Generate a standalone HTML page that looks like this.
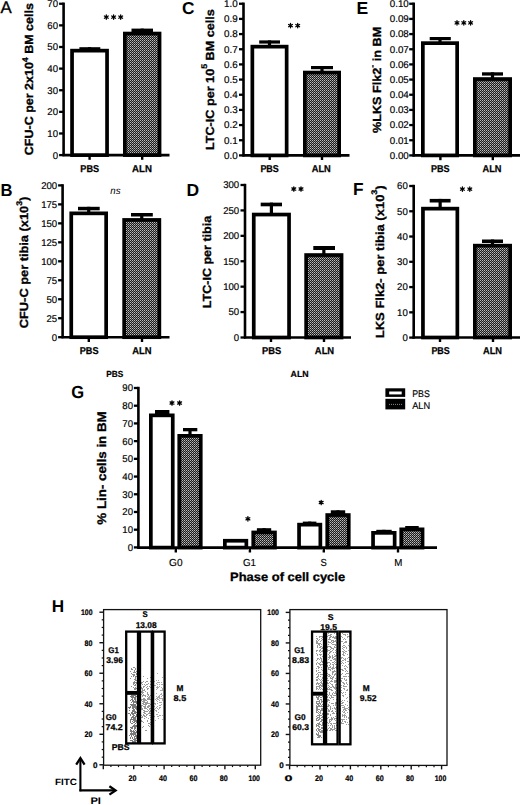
<!DOCTYPE html>
<html><head><meta charset="utf-8"><style>
html,body{margin:0;padding:0;background:#fff;width:520px;height:805px;overflow:hidden;font-family:"Liberation Sans",sans-serif;}
</style></head><body>
<svg width="520" height="805" viewBox="0 0 520 805" style="position:absolute;left:0;top:0">
<defs><pattern id="dots" x="0" y="0" width="2" height="2" patternUnits="userSpaceOnUse"><rect width="2" height="2" fill="#1c1c1c"/><rect x="0" y="0" width="1" height="1" fill="#bcbcbc"/><rect x="1" y="1" width="1" height="1" fill="#848484"/></pattern></defs>
<g font-family="&quot;Liberation Sans&quot;, sans-serif" text-rendering="geometricPrecision">
<line x1="63.60" y1="2.55" x2="63.60" y2="156.10" stroke="#000" stroke-width="2.6"/>
<line x1="59.10" y1="155.10" x2="63.60" y2="155.10" stroke="#000" stroke-width="2.3"/>
<text x="58.00" y="158.50" font-size="9.8" text-anchor="end" textLength="5.35" lengthAdjust="spacingAndGlyphs" stroke="#000" stroke-width="0.18">0</text>
<line x1="59.10" y1="133.48" x2="63.60" y2="133.48" stroke="#000" stroke-width="2.3"/>
<text x="58.00" y="136.88" font-size="9.8" text-anchor="end" textLength="10.70" lengthAdjust="spacingAndGlyphs" stroke="#000" stroke-width="0.18">10</text>
<line x1="59.10" y1="111.86" x2="63.60" y2="111.86" stroke="#000" stroke-width="2.3"/>
<text x="58.00" y="115.26" font-size="9.8" text-anchor="end" textLength="10.70" lengthAdjust="spacingAndGlyphs" stroke="#000" stroke-width="0.18">20</text>
<line x1="59.10" y1="90.24" x2="63.60" y2="90.24" stroke="#000" stroke-width="2.3"/>
<text x="58.00" y="93.64" font-size="9.8" text-anchor="end" textLength="10.70" lengthAdjust="spacingAndGlyphs" stroke="#000" stroke-width="0.18">30</text>
<line x1="59.10" y1="68.61" x2="63.60" y2="68.61" stroke="#000" stroke-width="2.3"/>
<text x="58.00" y="72.01" font-size="9.8" text-anchor="end" textLength="10.70" lengthAdjust="spacingAndGlyphs" stroke="#000" stroke-width="0.18">40</text>
<line x1="59.10" y1="46.99" x2="63.60" y2="46.99" stroke="#000" stroke-width="2.3"/>
<text x="58.00" y="50.39" font-size="9.8" text-anchor="end" textLength="10.70" lengthAdjust="spacingAndGlyphs" stroke="#000" stroke-width="0.18">50</text>
<line x1="59.10" y1="25.37" x2="63.60" y2="25.37" stroke="#000" stroke-width="2.3"/>
<text x="58.00" y="28.77" font-size="9.8" text-anchor="end" textLength="10.70" lengthAdjust="spacingAndGlyphs" stroke="#000" stroke-width="0.18">60</text>
<line x1="59.10" y1="3.75" x2="63.60" y2="3.75" stroke="#000" stroke-width="2.3"/>
<text x="58.00" y="7.15" font-size="9.8" text-anchor="end" textLength="10.70" lengthAdjust="spacingAndGlyphs" stroke="#000" stroke-width="0.18">70</text>
<line x1="62.50" y1="155.10" x2="169.50" y2="155.10" stroke="#000" stroke-width="2.6"/>
<line x1="89.60" y1="155.10" x2="89.60" y2="159.80" stroke="#000" stroke-width="2.4"/>
<line x1="142.20" y1="155.10" x2="142.20" y2="159.80" stroke="#000" stroke-width="2.4"/>
<text x="89.70" y="171.50" font-size="9.9" text-anchor="middle" font-weight="bold" textLength="18.80" lengthAdjust="spacingAndGlyphs" stroke="#000" stroke-width="0.25">PBS</text>
<text x="142.00" y="171.50" font-size="9.9" text-anchor="middle" font-weight="bold" textLength="19.80" lengthAdjust="spacingAndGlyphs" stroke="#000" stroke-width="0.25">ALN</text>
<rect x="72.05" y="50.65" width="35.00" height="104.45" fill="#fff" stroke="#000" stroke-width="3.7"/>
<rect x="79.40" y="47.20" width="20.90" height="2.80" fill="#000"/>
<rect x="87.95" y="47.20" width="3.20" height="2.60" fill="#000"/>
<rect x="124.00" y="32.70" width="36.40" height="122.40" fill="url(#dots)"/>
<rect x="124.85" y="33.55" width="34.70" height="121.55" fill="none" stroke="#000" stroke-width="3.7"/>
<rect x="131.50" y="28.60" width="21.50" height="4.40" fill="#000"/>
<rect x="140.60" y="28.60" width="3.20" height="4.10" fill="#000"/>
<path d="M106.30 14.90L106.30 19.30M104.39 16.00L108.21 18.20M108.21 16.00L104.39 18.20" stroke="#000" stroke-width="1.3" stroke-linecap="round" fill="none"/>
<circle cx="106.30" cy="17.10" r="1.15" fill="#000"/>
<path d="M113.60 14.90L113.60 19.30M111.69 16.00L115.51 18.20M115.51 16.00L111.69 18.20" stroke="#000" stroke-width="1.3" stroke-linecap="round" fill="none"/>
<circle cx="113.60" cy="17.10" r="1.15" fill="#000"/>
<path d="M120.70 14.90L120.70 19.30M118.79 16.00L122.61 18.20M122.61 16.00L118.79 18.20" stroke="#000" stroke-width="1.3" stroke-linecap="round" fill="none"/>
<circle cx="120.70" cy="17.10" r="1.15" fill="#000"/>
<text x="0.50" y="13.10" font-size="16.8" text-anchor="start" stroke="#000" stroke-width="0.35">A</text>
<text transform="translate(33.30,79.15) rotate(-90)" x="0" y="0" font-size="11.8" font-weight="bold" text-anchor="middle" textLength="152.00" lengthAdjust="spacingAndGlyphs" stroke="#000" stroke-width="0.3">CFU-C per 2x10<tspan font-size="8.2" dy="-5.7">4</tspan><tspan dy="5.7"> BM cells</tspan></text>
<line x1="243.50" y1="2.55" x2="243.50" y2="156.40" stroke="#000" stroke-width="2.6"/>
<line x1="239.00" y1="155.40" x2="243.50" y2="155.40" stroke="#000" stroke-width="2.3"/>
<text x="237.80" y="158.80" font-size="9.8" text-anchor="end" textLength="13.70" lengthAdjust="spacingAndGlyphs" stroke="#000" stroke-width="0.18">0.0</text>
<line x1="239.00" y1="140.24" x2="243.50" y2="140.24" stroke="#000" stroke-width="2.3"/>
<text x="237.80" y="143.64" font-size="9.8" text-anchor="end" textLength="13.70" lengthAdjust="spacingAndGlyphs" stroke="#000" stroke-width="0.18">0.1</text>
<line x1="239.00" y1="125.07" x2="243.50" y2="125.07" stroke="#000" stroke-width="2.3"/>
<text x="237.80" y="128.47" font-size="9.8" text-anchor="end" textLength="13.70" lengthAdjust="spacingAndGlyphs" stroke="#000" stroke-width="0.18">0.2</text>
<line x1="239.00" y1="109.91" x2="243.50" y2="109.91" stroke="#000" stroke-width="2.3"/>
<text x="237.80" y="113.31" font-size="9.8" text-anchor="end" textLength="13.70" lengthAdjust="spacingAndGlyphs" stroke="#000" stroke-width="0.18">0.3</text>
<line x1="239.00" y1="94.74" x2="243.50" y2="94.74" stroke="#000" stroke-width="2.3"/>
<text x="237.80" y="98.14" font-size="9.8" text-anchor="end" textLength="13.70" lengthAdjust="spacingAndGlyphs" stroke="#000" stroke-width="0.18">0.4</text>
<line x1="239.00" y1="79.58" x2="243.50" y2="79.58" stroke="#000" stroke-width="2.3"/>
<text x="237.80" y="82.98" font-size="9.8" text-anchor="end" textLength="13.70" lengthAdjust="spacingAndGlyphs" stroke="#000" stroke-width="0.18">0.5</text>
<line x1="239.00" y1="64.41" x2="243.50" y2="64.41" stroke="#000" stroke-width="2.3"/>
<text x="237.80" y="67.81" font-size="9.8" text-anchor="end" textLength="13.70" lengthAdjust="spacingAndGlyphs" stroke="#000" stroke-width="0.18">0.6</text>
<line x1="239.00" y1="49.25" x2="243.50" y2="49.25" stroke="#000" stroke-width="2.3"/>
<text x="237.80" y="52.65" font-size="9.8" text-anchor="end" textLength="13.70" lengthAdjust="spacingAndGlyphs" stroke="#000" stroke-width="0.18">0.7</text>
<line x1="239.00" y1="34.08" x2="243.50" y2="34.08" stroke="#000" stroke-width="2.3"/>
<text x="237.80" y="37.48" font-size="9.8" text-anchor="end" textLength="13.70" lengthAdjust="spacingAndGlyphs" stroke="#000" stroke-width="0.18">0.8</text>
<line x1="239.00" y1="18.91" x2="243.50" y2="18.91" stroke="#000" stroke-width="2.3"/>
<text x="237.80" y="22.31" font-size="9.8" text-anchor="end" textLength="13.70" lengthAdjust="spacingAndGlyphs" stroke="#000" stroke-width="0.18">0.9</text>
<line x1="239.00" y1="3.75" x2="243.50" y2="3.75" stroke="#000" stroke-width="2.3"/>
<text x="237.80" y="7.15" font-size="9.8" text-anchor="end" textLength="13.70" lengthAdjust="spacingAndGlyphs" stroke="#000" stroke-width="0.18">1.0</text>
<line x1="242.50" y1="155.40" x2="349.50" y2="155.40" stroke="#000" stroke-width="2.6"/>
<line x1="269.70" y1="155.40" x2="269.70" y2="160.00" stroke="#000" stroke-width="2.4"/>
<line x1="322.00" y1="155.40" x2="322.00" y2="160.00" stroke="#000" stroke-width="2.4"/>
<text x="269.60" y="171.50" font-size="9.9" text-anchor="middle" font-weight="bold" textLength="18.40" lengthAdjust="spacingAndGlyphs" stroke="#000" stroke-width="0.25">PBS</text>
<text x="321.30" y="171.50" font-size="9.9" text-anchor="middle" font-weight="bold" textLength="19.00" lengthAdjust="spacingAndGlyphs" stroke="#000" stroke-width="0.25">ALN</text>
<rect x="252.35" y="46.65" width="34.30" height="108.75" fill="#fff" stroke="#000" stroke-width="3.7"/>
<rect x="259.20" y="40.40" width="20.80" height="3.20" fill="#000"/>
<rect x="267.90" y="40.40" width="3.20" height="5.40" fill="#000"/>
<rect x="304.00" y="71.70" width="36.00" height="83.70" fill="url(#dots)"/>
<rect x="304.85" y="72.55" width="34.30" height="82.85" fill="none" stroke="#000" stroke-width="3.7"/>
<rect x="311.00" y="66.00" width="22.00" height="3.20" fill="#000"/>
<rect x="320.40" y="66.00" width="3.20" height="5.70" fill="#000"/>
<path d="M290.50 23.40L290.50 27.80M288.59 24.50L292.41 26.70M292.41 24.50L288.59 26.70" stroke="#000" stroke-width="1.3" stroke-linecap="round" fill="none"/>
<circle cx="290.50" cy="25.60" r="1.15" fill="#000"/>
<path d="M297.70 23.40L297.70 27.80M295.79 24.50L299.61 26.70M299.61 24.50L295.79 26.70" stroke="#000" stroke-width="1.3" stroke-linecap="round" fill="none"/>
<circle cx="297.70" cy="25.60" r="1.15" fill="#000"/>
<text x="181.90" y="13.60" font-size="17.3" text-anchor="start" font-weight="bold" >C</text>
<text transform="translate(213.70,79.60) rotate(-90)" x="0" y="0" font-size="11.8" font-weight="bold" text-anchor="middle" textLength="140.80" lengthAdjust="spacingAndGlyphs" stroke="#000" stroke-width="0.3">LTC-IC per 10<tspan font-size="8.2" dy="-6.3">5</tspan><tspan dy="6.3"> BM cells</tspan></text>
<line x1="413.70" y1="2.55" x2="413.70" y2="156.40" stroke="#000" stroke-width="2.6"/>
<line x1="409.20" y1="155.40" x2="413.70" y2="155.40" stroke="#000" stroke-width="2.3"/>
<text x="408.80" y="158.80" font-size="9.8" text-anchor="end" textLength="19.05" lengthAdjust="spacingAndGlyphs" stroke="#000" stroke-width="0.18">0.00</text>
<line x1="409.20" y1="140.24" x2="413.70" y2="140.24" stroke="#000" stroke-width="2.3"/>
<text x="408.80" y="143.64" font-size="9.8" text-anchor="end" textLength="19.05" lengthAdjust="spacingAndGlyphs" stroke="#000" stroke-width="0.18">0.01</text>
<line x1="409.20" y1="125.07" x2="413.70" y2="125.07" stroke="#000" stroke-width="2.3"/>
<text x="408.80" y="128.47" font-size="9.8" text-anchor="end" textLength="19.05" lengthAdjust="spacingAndGlyphs" stroke="#000" stroke-width="0.18">0.02</text>
<line x1="409.20" y1="109.91" x2="413.70" y2="109.91" stroke="#000" stroke-width="2.3"/>
<text x="408.80" y="113.31" font-size="9.8" text-anchor="end" textLength="19.05" lengthAdjust="spacingAndGlyphs" stroke="#000" stroke-width="0.18">0.03</text>
<line x1="409.20" y1="94.74" x2="413.70" y2="94.74" stroke="#000" stroke-width="2.3"/>
<text x="408.80" y="98.14" font-size="9.8" text-anchor="end" textLength="19.05" lengthAdjust="spacingAndGlyphs" stroke="#000" stroke-width="0.18">0.04</text>
<line x1="409.20" y1="79.58" x2="413.70" y2="79.58" stroke="#000" stroke-width="2.3"/>
<text x="408.80" y="82.98" font-size="9.8" text-anchor="end" textLength="19.05" lengthAdjust="spacingAndGlyphs" stroke="#000" stroke-width="0.18">0.05</text>
<line x1="409.20" y1="64.41" x2="413.70" y2="64.41" stroke="#000" stroke-width="2.3"/>
<text x="408.80" y="67.81" font-size="9.8" text-anchor="end" textLength="19.05" lengthAdjust="spacingAndGlyphs" stroke="#000" stroke-width="0.18">0.06</text>
<line x1="409.20" y1="49.25" x2="413.70" y2="49.25" stroke="#000" stroke-width="2.3"/>
<text x="408.80" y="52.65" font-size="9.8" text-anchor="end" textLength="19.05" lengthAdjust="spacingAndGlyphs" stroke="#000" stroke-width="0.18">0.07</text>
<line x1="409.20" y1="34.08" x2="413.70" y2="34.08" stroke="#000" stroke-width="2.3"/>
<text x="408.80" y="37.48" font-size="9.8" text-anchor="end" textLength="19.05" lengthAdjust="spacingAndGlyphs" stroke="#000" stroke-width="0.18">0.08</text>
<line x1="409.20" y1="18.91" x2="413.70" y2="18.91" stroke="#000" stroke-width="2.3"/>
<text x="408.80" y="22.31" font-size="9.8" text-anchor="end" textLength="19.05" lengthAdjust="spacingAndGlyphs" stroke="#000" stroke-width="0.18">0.09</text>
<line x1="409.20" y1="3.75" x2="413.70" y2="3.75" stroke="#000" stroke-width="2.3"/>
<text x="408.80" y="7.15" font-size="9.8" text-anchor="end" textLength="19.05" lengthAdjust="spacingAndGlyphs" stroke="#000" stroke-width="0.18">0.10</text>
<line x1="412.50" y1="155.40" x2="520.00" y2="155.40" stroke="#000" stroke-width="2.6"/>
<line x1="440.40" y1="155.40" x2="440.40" y2="160.20" stroke="#000" stroke-width="2.4"/>
<line x1="492.80" y1="155.40" x2="492.80" y2="160.20" stroke="#000" stroke-width="2.4"/>
<text x="440.30" y="171.50" font-size="9.9" text-anchor="middle" font-weight="bold" textLength="18.60" lengthAdjust="spacingAndGlyphs" stroke="#000" stroke-width="0.25">PBS</text>
<text x="492.00" y="171.50" font-size="9.9" text-anchor="middle" font-weight="bold" textLength="19.00" lengthAdjust="spacingAndGlyphs" stroke="#000" stroke-width="0.25">ALN</text>
<rect x="422.85" y="43.15" width="34.30" height="112.25" fill="#fff" stroke="#000" stroke-width="3.7"/>
<rect x="429.70" y="37.00" width="21.10" height="3.20" fill="#000"/>
<rect x="438.40" y="37.00" width="3.20" height="5.30" fill="#000"/>
<rect x="474.00" y="78.20" width="37.00" height="77.20" fill="url(#dots)"/>
<rect x="474.85" y="79.05" width="35.30" height="76.35" fill="none" stroke="#000" stroke-width="3.7"/>
<rect x="482.00" y="72.30" width="21.00" height="3.30" fill="#000"/>
<rect x="490.90" y="72.30" width="3.20" height="5.90" fill="#000"/>
<path d="M457.00 20.70L457.00 25.10M455.09 21.80L458.91 24.00M458.91 21.80L455.09 24.00" stroke="#000" stroke-width="1.3" stroke-linecap="round" fill="none"/>
<circle cx="457.00" cy="22.90" r="1.15" fill="#000"/>
<path d="M463.80 20.70L463.80 25.10M461.89 21.80L465.71 24.00M465.71 21.80L461.89 24.00" stroke="#000" stroke-width="1.3" stroke-linecap="round" fill="none"/>
<circle cx="463.80" cy="22.90" r="1.15" fill="#000"/>
<path d="M470.60 20.70L470.60 25.10M468.69 21.80L472.51 24.00M472.51 21.80L468.69 24.00" stroke="#000" stroke-width="1.3" stroke-linecap="round" fill="none"/>
<circle cx="470.60" cy="22.90" r="1.15" fill="#000"/>
<text x="356.60" y="13.60" font-size="17.5" text-anchor="start" font-weight="bold" >E</text>
<text transform="translate(381.10,79.90) rotate(-90)" x="0" y="0" font-size="11.8" font-weight="bold" text-anchor="middle" textLength="106.20" lengthAdjust="spacingAndGlyphs" stroke="#000" stroke-width="0.3">%LKS Flk2<tspan font-size="8.2" dy="-6.3">-</tspan><tspan dy="6.3"> in BM</tspan></text>
<line x1="62.60" y1="184.20" x2="62.60" y2="338.20" stroke="#000" stroke-width="2.6"/>
<line x1="58.10" y1="337.20" x2="62.60" y2="337.20" stroke="#000" stroke-width="2.3"/>
<text x="57.20" y="340.60" font-size="9.8" text-anchor="end" textLength="5.35" lengthAdjust="spacingAndGlyphs" stroke="#000" stroke-width="0.18">0</text>
<line x1="58.10" y1="318.22" x2="62.60" y2="318.22" stroke="#000" stroke-width="2.3"/>
<text x="57.20" y="321.62" font-size="9.8" text-anchor="end" textLength="10.70" lengthAdjust="spacingAndGlyphs" stroke="#000" stroke-width="0.18">25</text>
<line x1="58.10" y1="299.25" x2="62.60" y2="299.25" stroke="#000" stroke-width="2.3"/>
<text x="57.20" y="302.65" font-size="9.8" text-anchor="end" textLength="10.70" lengthAdjust="spacingAndGlyphs" stroke="#000" stroke-width="0.18">50</text>
<line x1="58.10" y1="280.27" x2="62.60" y2="280.27" stroke="#000" stroke-width="2.3"/>
<text x="57.20" y="283.67" font-size="9.8" text-anchor="end" textLength="10.70" lengthAdjust="spacingAndGlyphs" stroke="#000" stroke-width="0.18">75</text>
<line x1="58.10" y1="261.30" x2="62.60" y2="261.30" stroke="#000" stroke-width="2.3"/>
<text x="57.20" y="264.70" font-size="9.8" text-anchor="end" textLength="16.05" lengthAdjust="spacingAndGlyphs" stroke="#000" stroke-width="0.18">100</text>
<line x1="58.10" y1="242.32" x2="62.60" y2="242.32" stroke="#000" stroke-width="2.3"/>
<text x="57.20" y="245.72" font-size="9.8" text-anchor="end" textLength="16.05" lengthAdjust="spacingAndGlyphs" stroke="#000" stroke-width="0.18">125</text>
<line x1="58.10" y1="223.35" x2="62.60" y2="223.35" stroke="#000" stroke-width="2.3"/>
<text x="57.20" y="226.75" font-size="9.8" text-anchor="end" textLength="16.05" lengthAdjust="spacingAndGlyphs" stroke="#000" stroke-width="0.18">150</text>
<line x1="58.10" y1="204.38" x2="62.60" y2="204.38" stroke="#000" stroke-width="2.3"/>
<text x="57.20" y="207.78" font-size="9.8" text-anchor="end" textLength="16.05" lengthAdjust="spacingAndGlyphs" stroke="#000" stroke-width="0.18">175</text>
<line x1="58.10" y1="185.40" x2="62.60" y2="185.40" stroke="#000" stroke-width="2.3"/>
<text x="57.20" y="188.80" font-size="9.8" text-anchor="end" textLength="16.05" lengthAdjust="spacingAndGlyphs" stroke="#000" stroke-width="0.18">200</text>
<line x1="61.50" y1="337.20" x2="169.50" y2="337.20" stroke="#000" stroke-width="2.6"/>
<line x1="88.80" y1="337.20" x2="88.80" y2="342.00" stroke="#000" stroke-width="2.4"/>
<line x1="142.00" y1="337.20" x2="142.00" y2="342.00" stroke="#000" stroke-width="2.4"/>
<text x="89.10" y="353.80" font-size="9.9" text-anchor="middle" font-weight="bold" textLength="18.80" lengthAdjust="spacingAndGlyphs" stroke="#000" stroke-width="0.25">PBS</text>
<text x="141.80" y="353.80" font-size="9.9" text-anchor="middle" font-weight="bold" textLength="19.30" lengthAdjust="spacingAndGlyphs" stroke="#000" stroke-width="0.25">ALN</text>
<rect x="71.25" y="213.35" width="34.90" height="123.85" fill="#fff" stroke="#000" stroke-width="3.7"/>
<rect x="78.00" y="206.80" width="21.70" height="3.50" fill="#000"/>
<rect x="87.10" y="206.80" width="3.20" height="5.70" fill="#000"/>
<rect x="123.30" y="219.10" width="36.90" height="118.10" fill="url(#dots)"/>
<rect x="124.15" y="219.95" width="35.20" height="117.25" fill="none" stroke="#000" stroke-width="3.7"/>
<rect x="131.00" y="213.00" width="21.80" height="3.50" fill="#000"/>
<rect x="140.15" y="213.00" width="3.20" height="6.10" fill="#000"/>
<text x="115.40" y="193.60" font-size="10.0" text-anchor="middle" font-style="italic" textLength="10.20" lengthAdjust="spacingAndGlyphs" >ns</text>
<text x="0.40" y="195.80" font-size="17.3" text-anchor="start" font-weight="bold" textLength="12.00" lengthAdjust="spacingAndGlyphs" >B</text>
<text transform="translate(28.30,262.40) rotate(-90)" x="0" y="0" font-size="11.8" font-weight="bold" text-anchor="middle" textLength="131.60" lengthAdjust="spacingAndGlyphs" stroke="#000" stroke-width="0.3">CFU-C per tibia (x10<tspan font-size="8.2" dy="-6.6">3</tspan><tspan dy="6.6">)</tspan></text>
<line x1="245.00" y1="183.80" x2="245.00" y2="338.50" stroke="#000" stroke-width="2.6"/>
<line x1="240.50" y1="337.50" x2="245.00" y2="337.50" stroke="#000" stroke-width="2.3"/>
<text x="239.20" y="340.90" font-size="9.8" text-anchor="end" textLength="5.35" lengthAdjust="spacingAndGlyphs" stroke="#000" stroke-width="0.18">0</text>
<line x1="240.50" y1="312.08" x2="245.00" y2="312.08" stroke="#000" stroke-width="2.3"/>
<text x="239.20" y="315.48" font-size="9.8" text-anchor="end" textLength="10.70" lengthAdjust="spacingAndGlyphs" stroke="#000" stroke-width="0.18">50</text>
<line x1="240.50" y1="286.67" x2="245.00" y2="286.67" stroke="#000" stroke-width="2.3"/>
<text x="239.20" y="290.07" font-size="9.8" text-anchor="end" textLength="16.05" lengthAdjust="spacingAndGlyphs" stroke="#000" stroke-width="0.18">100</text>
<line x1="240.50" y1="261.25" x2="245.00" y2="261.25" stroke="#000" stroke-width="2.3"/>
<text x="239.20" y="264.65" font-size="9.8" text-anchor="end" textLength="16.05" lengthAdjust="spacingAndGlyphs" stroke="#000" stroke-width="0.18">150</text>
<line x1="240.50" y1="235.83" x2="245.00" y2="235.83" stroke="#000" stroke-width="2.3"/>
<text x="239.20" y="239.23" font-size="9.8" text-anchor="end" textLength="16.05" lengthAdjust="spacingAndGlyphs" stroke="#000" stroke-width="0.18">200</text>
<line x1="240.50" y1="210.42" x2="245.00" y2="210.42" stroke="#000" stroke-width="2.3"/>
<text x="239.20" y="213.82" font-size="9.8" text-anchor="end" textLength="16.05" lengthAdjust="spacingAndGlyphs" stroke="#000" stroke-width="0.18">250</text>
<line x1="240.50" y1="185.00" x2="245.00" y2="185.00" stroke="#000" stroke-width="2.3"/>
<text x="239.20" y="188.40" font-size="9.8" text-anchor="end" textLength="16.05" lengthAdjust="spacingAndGlyphs" stroke="#000" stroke-width="0.18">300</text>
<line x1="244.00" y1="337.50" x2="351.00" y2="337.50" stroke="#000" stroke-width="2.6"/>
<line x1="271.00" y1="337.50" x2="271.00" y2="342.00" stroke="#000" stroke-width="2.4"/>
<line x1="324.00" y1="337.50" x2="324.00" y2="342.00" stroke="#000" stroke-width="2.4"/>
<text x="271.60" y="353.80" font-size="9.9" text-anchor="middle" font-weight="bold" textLength="19.20" lengthAdjust="spacingAndGlyphs" stroke="#000" stroke-width="0.25">PBS</text>
<text x="324.50" y="353.80" font-size="9.9" text-anchor="middle" font-weight="bold" textLength="19.30" lengthAdjust="spacingAndGlyphs" stroke="#000" stroke-width="0.25">ALN</text>
<rect x="253.75" y="214.55" width="35.30" height="122.95" fill="#fff" stroke="#000" stroke-width="3.7"/>
<rect x="260.70" y="202.65" width="21.30" height="3.65" fill="#000"/>
<rect x="269.80" y="202.65" width="3.20" height="11.05" fill="#000"/>
<rect x="305.30" y="254.20" width="37.10" height="83.30" fill="url(#dots)"/>
<rect x="306.15" y="255.05" width="35.40" height="82.45" fill="none" stroke="#000" stroke-width="3.7"/>
<rect x="313.30" y="246.00" width="21.70" height="4.00" fill="#000"/>
<rect x="322.25" y="246.00" width="3.20" height="8.20" fill="#000"/>
<path d="M293.80 186.80L293.80 191.20M291.89 187.90L295.71 190.10M295.71 187.90L291.89 190.10" stroke="#000" stroke-width="1.3" stroke-linecap="round" fill="none"/>
<circle cx="293.80" cy="189.00" r="1.15" fill="#000"/>
<path d="M301.00 186.80L301.00 191.20M299.09 187.90L302.91 190.10M302.91 187.90L299.09 190.10" stroke="#000" stroke-width="1.3" stroke-linecap="round" fill="none"/>
<circle cx="301.00" cy="189.00" r="1.15" fill="#000"/>
<text x="186.40" y="195.60" font-size="17.5" text-anchor="start" font-weight="bold" >D</text>
<text transform="translate(210.90,262.00) rotate(-90)" x="0" y="0" font-size="11.8" font-weight="bold" text-anchor="middle" textLength="92.50" lengthAdjust="spacingAndGlyphs" stroke="#000" stroke-width="0.3">LTC-IC per tibia</text>
<line x1="413.70" y1="184.80" x2="413.70" y2="338.60" stroke="#000" stroke-width="2.6"/>
<line x1="409.20" y1="337.60" x2="413.70" y2="337.60" stroke="#000" stroke-width="2.3"/>
<text x="407.80" y="341.00" font-size="9.8" text-anchor="end" textLength="5.35" lengthAdjust="spacingAndGlyphs" stroke="#000" stroke-width="0.18">0</text>
<line x1="409.20" y1="312.33" x2="413.70" y2="312.33" stroke="#000" stroke-width="2.3"/>
<text x="407.80" y="315.73" font-size="9.8" text-anchor="end" textLength="10.70" lengthAdjust="spacingAndGlyphs" stroke="#000" stroke-width="0.18">10</text>
<line x1="409.20" y1="287.07" x2="413.70" y2="287.07" stroke="#000" stroke-width="2.3"/>
<text x="407.80" y="290.47" font-size="9.8" text-anchor="end" textLength="10.70" lengthAdjust="spacingAndGlyphs" stroke="#000" stroke-width="0.18">20</text>
<line x1="409.20" y1="261.80" x2="413.70" y2="261.80" stroke="#000" stroke-width="2.3"/>
<text x="407.80" y="265.20" font-size="9.8" text-anchor="end" textLength="10.70" lengthAdjust="spacingAndGlyphs" stroke="#000" stroke-width="0.18">30</text>
<line x1="409.20" y1="236.53" x2="413.70" y2="236.53" stroke="#000" stroke-width="2.3"/>
<text x="407.80" y="239.93" font-size="9.8" text-anchor="end" textLength="10.70" lengthAdjust="spacingAndGlyphs" stroke="#000" stroke-width="0.18">40</text>
<line x1="409.20" y1="211.27" x2="413.70" y2="211.27" stroke="#000" stroke-width="2.3"/>
<text x="407.80" y="214.67" font-size="9.8" text-anchor="end" textLength="10.70" lengthAdjust="spacingAndGlyphs" stroke="#000" stroke-width="0.18">50</text>
<line x1="409.20" y1="186.00" x2="413.70" y2="186.00" stroke="#000" stroke-width="2.3"/>
<text x="407.80" y="189.40" font-size="9.8" text-anchor="end" textLength="10.70" lengthAdjust="spacingAndGlyphs" stroke="#000" stroke-width="0.18">60</text>
<line x1="412.50" y1="337.50" x2="520.00" y2="337.50" stroke="#000" stroke-width="2.6"/>
<line x1="440.00" y1="337.50" x2="440.00" y2="342.00" stroke="#000" stroke-width="2.4"/>
<line x1="493.00" y1="337.50" x2="493.00" y2="342.00" stroke="#000" stroke-width="2.4"/>
<text x="440.60" y="353.80" font-size="9.9" text-anchor="middle" font-weight="bold" textLength="18.40" lengthAdjust="spacingAndGlyphs" stroke="#000" stroke-width="0.25">PBS</text>
<text x="492.50" y="353.80" font-size="9.9" text-anchor="middle" font-weight="bold" textLength="19.00" lengthAdjust="spacingAndGlyphs" stroke="#000" stroke-width="0.25">ALN</text>
<rect x="422.95" y="208.65" width="34.40" height="128.85" fill="#fff" stroke="#000" stroke-width="3.7"/>
<rect x="429.70" y="198.90" width="20.90" height="3.60" fill="#000"/>
<rect x="438.55" y="198.90" width="3.20" height="8.90" fill="#000"/>
<rect x="474.00" y="244.80" width="37.00" height="92.70" fill="url(#dots)"/>
<rect x="474.85" y="245.65" width="35.30" height="91.85" fill="none" stroke="#000" stroke-width="3.7"/>
<rect x="482.00" y="239.50" width="21.00" height="3.50" fill="#000"/>
<rect x="490.90" y="239.50" width="3.20" height="5.30" fill="#000"/>
<path d="M462.40 186.90L462.40 191.30M460.49 188.00L464.31 190.20M464.31 188.00L460.49 190.20" stroke="#000" stroke-width="1.3" stroke-linecap="round" fill="none"/>
<circle cx="462.40" cy="189.10" r="1.15" fill="#000"/>
<path d="M469.80 186.90L469.80 191.30M467.89 188.00L471.71 190.20M471.71 188.00L467.89 190.20" stroke="#000" stroke-width="1.3" stroke-linecap="round" fill="none"/>
<circle cx="469.80" cy="189.10" r="1.15" fill="#000"/>
<text x="353.10" y="195.40" font-size="17.3" text-anchor="start" font-weight="bold" >F</text>
<text transform="translate(384.00,261.75) rotate(-90)" x="0" y="0" font-size="11.8" font-weight="bold" text-anchor="middle" textLength="152.90" lengthAdjust="spacingAndGlyphs" stroke="#000" stroke-width="0.3">LKS Flk2- per tibia (x10<tspan font-size="8.2" dy="-7.0">3</tspan><tspan dy="7.0">)</tspan></text>
<text x="114.80" y="377.20" font-size="8.8" text-anchor="middle" font-weight="bold" textLength="17.00" lengthAdjust="spacingAndGlyphs" stroke="#000" stroke-width="0.2">PBS</text>
<text x="299.60" y="377.20" font-size="8.8" text-anchor="middle" font-weight="bold" textLength="18.10" lengthAdjust="spacingAndGlyphs" stroke="#000" stroke-width="0.2">ALN</text>
<line x1="138.40" y1="386.80" x2="138.40" y2="548.40" stroke="#000" stroke-width="2.6"/>
<line x1="133.90" y1="547.40" x2="138.40" y2="547.40" stroke="#000" stroke-width="2.3"/>
<text x="133.00" y="550.80" font-size="9.8" text-anchor="end" textLength="5.35" lengthAdjust="spacingAndGlyphs" stroke="#000" stroke-width="0.18">0</text>
<line x1="133.90" y1="529.69" x2="138.40" y2="529.69" stroke="#000" stroke-width="2.3"/>
<text x="133.00" y="533.09" font-size="9.8" text-anchor="end" textLength="10.70" lengthAdjust="spacingAndGlyphs" stroke="#000" stroke-width="0.18">10</text>
<line x1="133.90" y1="511.98" x2="138.40" y2="511.98" stroke="#000" stroke-width="2.3"/>
<text x="133.00" y="515.38" font-size="9.8" text-anchor="end" textLength="10.70" lengthAdjust="spacingAndGlyphs" stroke="#000" stroke-width="0.18">20</text>
<line x1="133.90" y1="494.27" x2="138.40" y2="494.27" stroke="#000" stroke-width="2.3"/>
<text x="133.00" y="497.67" font-size="9.8" text-anchor="end" textLength="10.70" lengthAdjust="spacingAndGlyphs" stroke="#000" stroke-width="0.18">30</text>
<line x1="133.90" y1="476.56" x2="138.40" y2="476.56" stroke="#000" stroke-width="2.3"/>
<text x="133.00" y="479.96" font-size="9.8" text-anchor="end" textLength="10.70" lengthAdjust="spacingAndGlyphs" stroke="#000" stroke-width="0.18">40</text>
<line x1="133.90" y1="458.84" x2="138.40" y2="458.84" stroke="#000" stroke-width="2.3"/>
<text x="133.00" y="462.24" font-size="9.8" text-anchor="end" textLength="10.70" lengthAdjust="spacingAndGlyphs" stroke="#000" stroke-width="0.18">50</text>
<line x1="133.90" y1="441.13" x2="138.40" y2="441.13" stroke="#000" stroke-width="2.3"/>
<text x="133.00" y="444.53" font-size="9.8" text-anchor="end" textLength="10.70" lengthAdjust="spacingAndGlyphs" stroke="#000" stroke-width="0.18">60</text>
<line x1="133.90" y1="423.42" x2="138.40" y2="423.42" stroke="#000" stroke-width="2.3"/>
<text x="133.00" y="426.82" font-size="9.8" text-anchor="end" textLength="10.70" lengthAdjust="spacingAndGlyphs" stroke="#000" stroke-width="0.18">70</text>
<line x1="133.90" y1="405.71" x2="138.40" y2="405.71" stroke="#000" stroke-width="2.3"/>
<text x="133.00" y="409.11" font-size="9.8" text-anchor="end" textLength="10.70" lengthAdjust="spacingAndGlyphs" stroke="#000" stroke-width="0.18">80</text>
<line x1="133.90" y1="388.00" x2="138.40" y2="388.00" stroke="#000" stroke-width="2.3"/>
<text x="133.00" y="391.40" font-size="9.8" text-anchor="end" textLength="10.70" lengthAdjust="spacingAndGlyphs" stroke="#000" stroke-width="0.18">90</text>
<line x1="137.20" y1="547.60" x2="437.00" y2="547.60" stroke="#000" stroke-width="2.6"/>
<line x1="175.80" y1="547.60" x2="175.80" y2="552.50" stroke="#000" stroke-width="2.4"/>
<line x1="249.90" y1="547.60" x2="249.90" y2="552.50" stroke="#000" stroke-width="2.4"/>
<line x1="323.80" y1="547.60" x2="323.80" y2="552.50" stroke="#000" stroke-width="2.4"/>
<line x1="398.00" y1="547.60" x2="398.00" y2="552.50" stroke="#000" stroke-width="2.4"/>
<text x="175.80" y="565.60" font-size="10.2" text-anchor="middle" textLength="13.50" lengthAdjust="spacingAndGlyphs" stroke="#000" stroke-width="0.15">G0</text>
<text x="249.50" y="565.60" font-size="10.2" text-anchor="middle" textLength="13.00" lengthAdjust="spacingAndGlyphs" stroke="#000" stroke-width="0.15">G1</text>
<text x="323.70" y="565.60" font-size="10.2" text-anchor="middle" textLength="6.30" lengthAdjust="spacingAndGlyphs" stroke="#000" stroke-width="0.15">S</text>
<text x="398.20" y="565.60" font-size="10.2" text-anchor="middle" textLength="8.10" lengthAdjust="spacingAndGlyphs" stroke="#000" stroke-width="0.15">M</text>
<text x="287.60" y="581.00" font-size="12.2" text-anchor="middle" font-weight="bold" textLength="115.00" lengthAdjust="spacingAndGlyphs" stroke="#000" stroke-width="0.3">Phase of cell cycle</text>
<rect x="150.85" y="415.35" width="21.90" height="132.25" fill="#fff" stroke="#000" stroke-width="3.7"/>
<rect x="155.00" y="410.00" width="14.40" height="5.00" fill="#000"/>
<rect x="160.20" y="410.00" width="3.20" height="4.50" fill="#000"/>
<rect x="178.40" y="435.00" width="23.20" height="112.60" fill="url(#dots)"/>
<rect x="179.25" y="435.85" width="21.50" height="111.75" fill="none" stroke="#000" stroke-width="3.7"/>
<rect x="183.00" y="428.00" width="14.30" height="3.30" fill="#000"/>
<rect x="188.40" y="428.00" width="3.20" height="7.00" fill="#000"/>
<rect x="224.85" y="540.75" width="21.50" height="6.85" fill="#fff" stroke="#000" stroke-width="3.7"/>
<rect x="252.40" y="531.60" width="23.40" height="16.00" fill="url(#dots)"/>
<rect x="253.25" y="532.45" width="21.70" height="15.15" fill="none" stroke="#000" stroke-width="3.7"/>
<rect x="256.90" y="528.20" width="14.30" height="3.80" fill="#000"/>
<rect x="262.50" y="528.20" width="3.20" height="3.40" fill="#000"/>
<rect x="299.05" y="524.65" width="21.30" height="22.95" fill="#fff" stroke="#000" stroke-width="3.7"/>
<rect x="302.80" y="521.60" width="13.60" height="2.40" fill="#000"/>
<rect x="308.10" y="521.60" width="3.20" height="2.20" fill="#000"/>
<rect x="326.40" y="514.20" width="23.20" height="33.40" fill="url(#dots)"/>
<rect x="327.25" y="515.05" width="21.50" height="32.55" fill="none" stroke="#000" stroke-width="3.7"/>
<rect x="330.80" y="510.30" width="14.40" height="3.70" fill="#000"/>
<rect x="336.40" y="510.30" width="3.20" height="3.90" fill="#000"/>
<rect x="373.05" y="532.85" width="21.60" height="14.75" fill="#fff" stroke="#000" stroke-width="3.7"/>
<rect x="376.30" y="529.80" width="15.40" height="3.20" fill="#000"/>
<rect x="382.25" y="529.80" width="3.20" height="2.20" fill="#000"/>
<rect x="400.40" y="528.50" width="23.00" height="19.10" fill="url(#dots)"/>
<rect x="401.25" y="529.35" width="21.30" height="18.25" fill="none" stroke="#000" stroke-width="3.7"/>
<rect x="405.20" y="526.00" width="13.50" height="3.00" fill="#000"/>
<rect x="410.30" y="526.00" width="3.20" height="2.50" fill="#000"/>
<path d="M172.00 400.80L172.00 405.20M170.09 401.90L173.91 404.10M173.91 401.90L170.09 404.10" stroke="#000" stroke-width="1.3" stroke-linecap="round" fill="none"/>
<circle cx="172.00" cy="403.00" r="1.15" fill="#000"/>
<path d="M179.60 400.80L179.60 405.20M177.69 401.90L181.51 404.10M181.51 401.90L177.69 404.10" stroke="#000" stroke-width="1.3" stroke-linecap="round" fill="none"/>
<circle cx="179.60" cy="403.00" r="1.15" fill="#000"/>
<path d="M247.90 516.60L247.90 521.00M245.99 517.70L249.81 519.90M249.81 517.70L245.99 519.90" stroke="#000" stroke-width="1.3" stroke-linecap="round" fill="none"/>
<circle cx="247.90" cy="518.80" r="1.15" fill="#000"/>
<path d="M321.20 500.30L321.20 504.70M319.29 501.40L323.11 503.60M323.11 501.40L319.29 503.60" stroke="#000" stroke-width="1.3" stroke-linecap="round" fill="none"/>
<circle cx="321.20" cy="502.50" r="1.15" fill="#000"/>
<text x="71.20" y="398.30" font-size="17.6" text-anchor="start" font-weight="bold" textLength="12.90" lengthAdjust="spacingAndGlyphs" >G</text>
<text transform="translate(106.30,468.00) rotate(-90)" x="0" y="0" font-size="12.5" font-weight="bold" text-anchor="middle" textLength="113.40" lengthAdjust="spacingAndGlyphs" stroke="#000" stroke-width="0.3">% Lin- cells in BM</text>
<rect x="385.40" y="388.30" width="19.80" height="8.60" fill="#000"/>
<rect x="389.20" y="391.50" width="12.50" height="2.90" fill="#fff"/>
<rect x="385.40" y="398.80" width="19.80" height="10.60" fill="#000"/>
<line x1="389" y1="404.4" x2="402" y2="404.4" stroke="#888" stroke-width="1" stroke-dasharray="1,1"/>
<text x="412.20" y="397.30" font-size="9.7" text-anchor="start" textLength="17.60" lengthAdjust="spacingAndGlyphs" stroke="#000" stroke-width="0.15">PBS</text>
<text x="412.20" y="408.50" font-size="9.7" text-anchor="start" textLength="18.00" lengthAdjust="spacingAndGlyphs" stroke="#000" stroke-width="0.15">ALN</text>
<text x="51.70" y="612.30" font-size="17.2" text-anchor="start" font-weight="bold" >H</text>
<path d="M128 707h1v1h-1zM128 713h1v1h-1zM129 707h1v1h-1zM129 708h1v1h-1zM129 710h1v1h-1zM129 713h1v1h-1zM129 735h1v1h-1zM130 696h1v1h-1zM130 700h1v1h-1zM130 704h1v1h-1zM130 706h1v1h-1zM130 707h1v1h-1zM130 714h1v1h-1zM130 715h1v1h-1zM130 719h1v1h-1zM130 720h1v1h-1zM130 721h1v1h-1zM130 722h1v1h-1zM130 727h1v1h-1zM130 729h1v1h-1zM130 730h1v1h-1zM130 731h1v1h-1zM130 733h1v1h-1zM130 734h1v1h-1zM130 737h1v1h-1zM130 738h1v1h-1zM130 740h1v1h-1zM131 695h1v1h-1zM131 696h1v1h-1zM131 697h1v1h-1zM131 699h1v1h-1zM131 702h1v1h-1zM131 704h1v1h-1zM131 705h1v1h-1zM131 712h1v1h-1zM131 713h1v1h-1zM131 717h1v1h-1zM131 718h1v1h-1zM131 719h1v1h-1zM131 723h1v1h-1zM131 727h1v1h-1zM131 728h1v1h-1zM131 730h1v1h-1zM131 731h1v1h-1zM131 732h1v1h-1zM131 733h1v1h-1zM131 734h1v1h-1zM131 735h1v1h-1zM131 736h1v1h-1zM131 740h1v1h-1zM132 695h1v1h-1zM132 696h1v1h-1zM132 697h1v1h-1zM132 698h1v1h-1zM132 699h1v1h-1zM132 700h1v1h-1zM132 701h1v1h-1zM132 704h1v1h-1zM132 705h1v1h-1zM132 706h1v1h-1zM132 707h1v1h-1zM132 708h1v1h-1zM132 710h1v1h-1zM132 711h1v1h-1zM132 712h1v1h-1zM132 713h1v1h-1zM132 714h1v1h-1zM132 716h1v1h-1zM132 717h1v1h-1zM132 719h1v1h-1zM132 721h1v1h-1zM132 723h1v1h-1zM132 726h1v1h-1zM132 727h1v1h-1zM132 728h1v1h-1zM132 731h1v1h-1zM132 733h1v1h-1zM132 734h1v1h-1zM132 737h1v1h-1zM132 738h1v1h-1zM132 740h1v1h-1zM132 741h1v1h-1zM132 742h1v1h-1zM133 695h1v1h-1zM133 696h1v1h-1zM133 697h1v1h-1zM133 700h1v1h-1zM133 701h1v1h-1zM133 702h1v1h-1zM133 703h1v1h-1zM133 704h1v1h-1zM133 705h1v1h-1zM133 706h1v1h-1zM133 707h1v1h-1zM133 708h1v1h-1zM133 709h1v1h-1zM133 710h1v1h-1zM133 711h1v1h-1zM133 713h1v1h-1zM133 714h1v1h-1zM133 715h1v1h-1zM133 716h1v1h-1zM133 717h1v1h-1zM133 718h1v1h-1zM133 719h1v1h-1zM133 720h1v1h-1zM133 722h1v1h-1zM133 725h1v1h-1zM133 726h1v1h-1zM133 730h1v1h-1zM133 731h1v1h-1zM133 732h1v1h-1zM133 733h1v1h-1zM133 734h1v1h-1zM133 735h1v1h-1zM133 739h1v1h-1zM133 741h1v1h-1zM133 742h1v1h-1zM134 695h1v1h-1zM134 697h1v1h-1zM134 698h1v1h-1zM134 699h1v1h-1zM134 701h1v1h-1zM134 702h1v1h-1zM134 704h1v1h-1zM134 705h1v1h-1zM134 706h1v1h-1zM134 707h1v1h-1zM134 709h1v1h-1zM134 710h1v1h-1zM134 711h1v1h-1zM134 712h1v1h-1zM134 713h1v1h-1zM134 715h1v1h-1zM134 717h1v1h-1zM134 718h1v1h-1zM134 719h1v1h-1zM134 720h1v1h-1zM134 721h1v1h-1zM134 722h1v1h-1zM134 724h1v1h-1zM134 725h1v1h-1zM134 726h1v1h-1zM134 727h1v1h-1zM134 728h1v1h-1zM134 729h1v1h-1zM134 731h1v1h-1zM134 732h1v1h-1zM134 733h1v1h-1zM134 734h1v1h-1zM134 736h1v1h-1zM134 737h1v1h-1zM134 738h1v1h-1zM134 739h1v1h-1zM134 740h1v1h-1zM134 741h1v1h-1zM134 742h1v1h-1zM135 695h1v1h-1zM135 696h1v1h-1zM135 697h1v1h-1zM135 698h1v1h-1zM135 699h1v1h-1zM135 700h1v1h-1zM135 701h1v1h-1zM135 702h1v1h-1zM135 704h1v1h-1zM135 705h1v1h-1zM135 706h1v1h-1zM135 707h1v1h-1zM135 708h1v1h-1zM135 711h1v1h-1zM135 712h1v1h-1zM135 713h1v1h-1zM135 716h1v1h-1zM135 717h1v1h-1zM135 718h1v1h-1zM135 719h1v1h-1zM135 720h1v1h-1zM135 721h1v1h-1zM135 723h1v1h-1zM135 725h1v1h-1zM135 726h1v1h-1zM135 727h1v1h-1zM135 728h1v1h-1zM135 730h1v1h-1zM135 732h1v1h-1zM135 733h1v1h-1zM135 734h1v1h-1zM135 735h1v1h-1zM135 736h1v1h-1zM135 738h1v1h-1zM135 739h1v1h-1zM135 740h1v1h-1zM135 741h1v1h-1zM135 742h1v1h-1zM136 696h1v1h-1zM136 701h1v1h-1zM136 702h1v1h-1zM136 703h1v1h-1zM136 706h1v1h-1zM136 707h1v1h-1zM136 708h1v1h-1zM136 709h1v1h-1zM136 712h1v1h-1zM136 714h1v1h-1zM136 715h1v1h-1zM136 716h1v1h-1zM136 720h1v1h-1zM136 721h1v1h-1zM136 722h1v1h-1zM136 725h1v1h-1zM136 726h1v1h-1zM136 731h1v1h-1zM136 732h1v1h-1zM136 735h1v1h-1zM136 736h1v1h-1zM136 737h1v1h-1zM136 738h1v1h-1zM136 740h1v1h-1zM137 696h1v1h-1zM137 698h1v1h-1zM137 703h1v1h-1zM137 705h1v1h-1zM137 725h1v1h-1zM137 728h1v1h-1zM137 733h1v1h-1zM137 736h1v1h-1zM137 737h1v1h-1z" fill="#7a7a7a"/>
<path d="M130 671h1v1h-1zM130 678h1v1h-1zM131 668h1v1h-1zM131 669h1v1h-1zM131 673h1v1h-1zM131 676h1v1h-1zM131 686h1v1h-1zM132 669h1v1h-1zM132 674h1v1h-1zM133 667h1v1h-1zM133 672h1v1h-1zM133 674h1v1h-1zM133 675h1v1h-1zM133 676h1v1h-1zM133 682h1v1h-1zM133 683h1v1h-1zM133 684h1v1h-1zM133 687h1v1h-1zM134 667h1v1h-1zM134 670h1v1h-1zM134 671h1v1h-1zM134 672h1v1h-1zM134 674h1v1h-1zM134 675h1v1h-1zM134 679h1v1h-1zM134 681h1v1h-1zM134 682h1v1h-1zM134 683h1v1h-1zM134 685h1v1h-1zM134 688h1v1h-1zM134 689h1v1h-1zM135 668h1v1h-1zM135 669h1v1h-1zM135 672h1v1h-1zM135 676h1v1h-1zM135 677h1v1h-1zM135 678h1v1h-1zM135 679h1v1h-1zM135 680h1v1h-1zM135 682h1v1h-1zM135 684h1v1h-1zM135 685h1v1h-1zM135 687h1v1h-1zM135 688h1v1h-1zM135 689h1v1h-1zM136 671h1v1h-1zM136 673h1v1h-1zM136 674h1v1h-1zM136 676h1v1h-1zM136 680h1v1h-1zM136 682h1v1h-1zM136 683h1v1h-1zM136 688h1v1h-1zM137 668h1v1h-1zM137 672h1v1h-1zM137 674h1v1h-1z" fill="#8c8c8c"/>
<path d="M141 682h1v1h-1zM141 683h1v1h-1zM141 687h1v1h-1zM141 688h1v1h-1zM141 691h1v1h-1zM141 692h1v1h-1zM141 694h1v1h-1zM141 699h1v1h-1zM141 700h1v1h-1zM141 705h1v1h-1zM141 706h1v1h-1zM141 707h1v1h-1zM141 708h1v1h-1zM141 709h1v1h-1zM141 715h1v1h-1zM141 717h1v1h-1zM141 720h1v1h-1zM141 721h1v1h-1zM142 682h1v1h-1zM142 684h1v1h-1zM142 688h1v1h-1zM142 689h1v1h-1zM142 690h1v1h-1zM142 691h1v1h-1zM142 692h1v1h-1zM142 693h1v1h-1zM142 695h1v1h-1zM142 696h1v1h-1zM142 699h1v1h-1zM142 701h1v1h-1zM142 703h1v1h-1zM142 705h1v1h-1zM142 708h1v1h-1zM142 709h1v1h-1zM142 716h1v1h-1zM142 717h1v1h-1zM142 721h1v1h-1zM142 727h1v1h-1zM143 676h1v1h-1zM143 681h1v1h-1zM143 686h1v1h-1zM143 687h1v1h-1zM143 690h1v1h-1zM143 692h1v1h-1zM143 694h1v1h-1zM143 695h1v1h-1zM143 698h1v1h-1zM143 699h1v1h-1zM143 700h1v1h-1zM143 701h1v1h-1zM143 702h1v1h-1zM143 703h1v1h-1zM143 704h1v1h-1zM143 706h1v1h-1zM143 710h1v1h-1zM143 712h1v1h-1zM143 714h1v1h-1zM143 715h1v1h-1zM143 722h1v1h-1zM143 726h1v1h-1zM144 684h1v1h-1zM144 686h1v1h-1zM144 689h1v1h-1zM144 690h1v1h-1zM144 695h1v1h-1zM144 698h1v1h-1zM144 699h1v1h-1zM144 700h1v1h-1zM144 701h1v1h-1zM144 702h1v1h-1zM144 704h1v1h-1zM144 706h1v1h-1zM144 707h1v1h-1zM144 708h1v1h-1zM144 710h1v1h-1zM144 711h1v1h-1zM144 712h1v1h-1zM144 713h1v1h-1zM144 715h1v1h-1zM144 716h1v1h-1zM144 718h1v1h-1zM145 682h1v1h-1zM145 685h1v1h-1zM145 691h1v1h-1zM145 695h1v1h-1zM145 696h1v1h-1zM145 699h1v1h-1zM145 700h1v1h-1zM145 702h1v1h-1zM145 703h1v1h-1zM145 704h1v1h-1zM145 705h1v1h-1zM145 706h1v1h-1zM145 707h1v1h-1zM145 708h1v1h-1zM145 711h1v1h-1zM145 713h1v1h-1zM145 716h1v1h-1zM145 730h1v1h-1zM146 681h1v1h-1zM146 684h1v1h-1zM146 687h1v1h-1zM146 700h1v1h-1zM146 702h1v1h-1zM146 703h1v1h-1zM146 704h1v1h-1zM146 708h1v1h-1zM146 711h1v1h-1zM146 714h1v1h-1zM146 715h1v1h-1zM146 717h1v1h-1zM146 730h1v1h-1zM147 678h1v1h-1zM147 681h1v1h-1zM147 684h1v1h-1zM147 686h1v1h-1zM147 688h1v1h-1zM147 689h1v1h-1zM147 692h1v1h-1zM147 693h1v1h-1zM147 694h1v1h-1zM147 696h1v1h-1zM147 698h1v1h-1zM147 699h1v1h-1zM147 701h1v1h-1zM147 702h1v1h-1zM147 703h1v1h-1zM147 706h1v1h-1zM147 707h1v1h-1zM147 709h1v1h-1zM147 711h1v1h-1zM147 714h1v1h-1zM147 720h1v1h-1zM147 721h1v1h-1zM148 683h1v1h-1zM148 688h1v1h-1zM148 694h1v1h-1zM148 695h1v1h-1zM148 697h1v1h-1zM148 698h1v1h-1zM148 699h1v1h-1zM148 703h1v1h-1zM148 705h1v1h-1zM148 706h1v1h-1zM148 707h1v1h-1zM148 710h1v1h-1zM148 713h1v1h-1zM148 718h1v1h-1zM148 723h1v1h-1zM148 725h1v1h-1zM149 686h1v1h-1zM149 696h1v1h-1zM149 697h1v1h-1zM149 698h1v1h-1zM149 699h1v1h-1zM149 703h1v1h-1zM149 705h1v1h-1zM149 706h1v1h-1zM149 708h1v1h-1zM149 709h1v1h-1zM149 711h1v1h-1zM149 712h1v1h-1zM149 713h1v1h-1zM149 715h1v1h-1zM149 723h1v1h-1zM149 726h1v1h-1zM150 677h1v1h-1zM150 681h1v1h-1zM150 684h1v1h-1zM150 687h1v1h-1zM150 695h1v1h-1zM150 699h1v1h-1zM150 704h1v1h-1zM150 708h1v1h-1zM150 710h1v1h-1zM150 711h1v1h-1zM150 713h1v1h-1zM150 715h1v1h-1zM150 717h1v1h-1zM150 719h1v1h-1zM150 722h1v1h-1zM150 724h1v1h-1z" fill="#9a9a9a"/>
<path d="M154 681h1v1h-1zM154 685h1v1h-1zM154 703h1v1h-1zM154 706h1v1h-1zM154 709h1v1h-1zM154 716h1v1h-1zM155 685h1v1h-1zM155 699h1v1h-1zM155 703h1v1h-1zM155 704h1v1h-1zM155 708h1v1h-1zM155 710h1v1h-1zM155 720h1v1h-1zM156 680h1v1h-1zM156 683h1v1h-1zM156 687h1v1h-1zM156 689h1v1h-1zM156 693h1v1h-1zM156 696h1v1h-1zM156 698h1v1h-1zM156 700h1v1h-1zM156 707h1v1h-1zM156 710h1v1h-1zM156 711h1v1h-1zM156 714h1v1h-1zM157 673h1v1h-1zM157 682h1v1h-1zM157 684h1v1h-1zM157 686h1v1h-1zM157 687h1v1h-1zM157 688h1v1h-1zM157 697h1v1h-1zM157 698h1v1h-1zM157 699h1v1h-1zM157 701h1v1h-1zM157 703h1v1h-1zM157 706h1v1h-1zM157 708h1v1h-1zM157 714h1v1h-1zM157 716h1v1h-1zM158 680h1v1h-1zM158 682h1v1h-1zM158 687h1v1h-1zM158 696h1v1h-1zM158 697h1v1h-1zM158 699h1v1h-1zM158 709h1v1h-1zM158 712h1v1h-1zM158 716h1v1h-1zM158 718h1v1h-1zM159 682h1v1h-1zM159 684h1v1h-1zM159 686h1v1h-1zM159 695h1v1h-1zM159 696h1v1h-1zM159 697h1v1h-1zM159 698h1v1h-1zM159 700h1v1h-1zM159 702h1v1h-1zM159 705h1v1h-1zM159 707h1v1h-1zM159 708h1v1h-1zM159 715h1v1h-1zM160 690h1v1h-1zM160 694h1v1h-1zM160 698h1v1h-1zM160 702h1v1h-1zM160 705h1v1h-1zM160 707h1v1h-1zM160 715h1v1h-1zM161 682h1v1h-1zM161 684h1v1h-1zM161 687h1v1h-1zM161 690h1v1h-1zM161 693h1v1h-1zM161 694h1v1h-1zM161 696h1v1h-1zM161 698h1v1h-1zM161 702h1v1h-1zM161 704h1v1h-1zM162 677h1v1h-1zM162 684h1v1h-1zM162 688h1v1h-1zM162 689h1v1h-1zM162 690h1v1h-1zM162 695h1v1h-1zM162 698h1v1h-1zM162 699h1v1h-1zM162 700h1v1h-1zM162 715h1v1h-1zM162 719h1v1h-1z" fill="#aaa"/>
<rect x="103.60" y="609.60" width="157.10" height="155.60" fill="none" stroke="#111" stroke-width="1.3"/>
<line x1="99.40" y1="764.80" x2="103.60" y2="764.80" stroke="#111" stroke-width="1.4"/>
<text x="97.40" y="767.70" font-size="8.1" text-anchor="end" font-weight="bold" stroke="#000" stroke-width="0.2">0</text>
<line x1="101.70" y1="757.17" x2="103.60" y2="757.17" stroke="#111" stroke-width="1.2"/>
<line x1="101.70" y1="749.54" x2="103.60" y2="749.54" stroke="#111" stroke-width="1.2"/>
<line x1="101.70" y1="741.91" x2="103.60" y2="741.91" stroke="#111" stroke-width="1.2"/>
<line x1="99.40" y1="734.28" x2="103.60" y2="734.28" stroke="#111" stroke-width="1.4"/>
<text x="92.60" y="737.18" font-size="8.1" text-anchor="end" font-weight="bold" textLength="8.00" lengthAdjust="spacingAndGlyphs" stroke="#000" stroke-width="0.2">20</text>
<line x1="101.70" y1="726.65" x2="103.60" y2="726.65" stroke="#111" stroke-width="1.2"/>
<line x1="101.70" y1="719.02" x2="103.60" y2="719.02" stroke="#111" stroke-width="1.2"/>
<line x1="101.70" y1="711.39" x2="103.60" y2="711.39" stroke="#111" stroke-width="1.2"/>
<line x1="99.40" y1="703.76" x2="103.60" y2="703.76" stroke="#111" stroke-width="1.4"/>
<text x="92.60" y="706.66" font-size="8.1" text-anchor="end" font-weight="bold" textLength="8.00" lengthAdjust="spacingAndGlyphs" stroke="#000" stroke-width="0.2">40</text>
<line x1="101.70" y1="696.13" x2="103.60" y2="696.13" stroke="#111" stroke-width="1.2"/>
<line x1="101.70" y1="688.50" x2="103.60" y2="688.50" stroke="#111" stroke-width="1.2"/>
<line x1="101.70" y1="680.87" x2="103.60" y2="680.87" stroke="#111" stroke-width="1.2"/>
<line x1="99.40" y1="673.24" x2="103.60" y2="673.24" stroke="#111" stroke-width="1.4"/>
<text x="92.60" y="676.14" font-size="8.1" text-anchor="end" font-weight="bold" textLength="8.00" lengthAdjust="spacingAndGlyphs" stroke="#000" stroke-width="0.2">60</text>
<line x1="101.70" y1="665.61" x2="103.60" y2="665.61" stroke="#111" stroke-width="1.2"/>
<line x1="101.70" y1="657.98" x2="103.60" y2="657.98" stroke="#111" stroke-width="1.2"/>
<line x1="101.70" y1="650.35" x2="103.60" y2="650.35" stroke="#111" stroke-width="1.2"/>
<line x1="99.40" y1="642.72" x2="103.60" y2="642.72" stroke="#111" stroke-width="1.4"/>
<text x="92.60" y="645.62" font-size="8.1" text-anchor="end" font-weight="bold" textLength="8.00" lengthAdjust="spacingAndGlyphs" stroke="#000" stroke-width="0.2">80</text>
<line x1="101.70" y1="635.09" x2="103.60" y2="635.09" stroke="#111" stroke-width="1.2"/>
<line x1="101.70" y1="627.46" x2="103.60" y2="627.46" stroke="#111" stroke-width="1.2"/>
<line x1="101.70" y1="619.83" x2="103.60" y2="619.83" stroke="#111" stroke-width="1.2"/>
<line x1="99.40" y1="612.20" x2="103.60" y2="612.20" stroke="#111" stroke-width="1.4"/>
<text x="92.60" y="615.10" font-size="8.1" text-anchor="end" font-weight="bold" textLength="11.60" lengthAdjust="spacingAndGlyphs" stroke="#000" stroke-width="0.2">100</text>
<line x1="103.30" y1="765.20" x2="103.30" y2="769.20" stroke="#111" stroke-width="1.4"/>
<line x1="110.90" y1="765.20" x2="110.90" y2="767.10" stroke="#111" stroke-width="1.2"/>
<line x1="118.50" y1="765.20" x2="118.50" y2="767.10" stroke="#111" stroke-width="1.2"/>
<line x1="126.10" y1="765.20" x2="126.10" y2="767.10" stroke="#111" stroke-width="1.2"/>
<line x1="133.70" y1="765.20" x2="133.70" y2="769.20" stroke="#111" stroke-width="1.4"/>
<text x="132.60" y="780.80" font-size="8.1" text-anchor="middle" font-weight="bold" textLength="8.00" lengthAdjust="spacingAndGlyphs" stroke="#000" stroke-width="0.2">20</text>
<line x1="141.30" y1="765.20" x2="141.30" y2="767.10" stroke="#111" stroke-width="1.2"/>
<line x1="148.90" y1="765.20" x2="148.90" y2="767.10" stroke="#111" stroke-width="1.2"/>
<line x1="156.50" y1="765.20" x2="156.50" y2="767.10" stroke="#111" stroke-width="1.2"/>
<line x1="164.10" y1="765.20" x2="164.10" y2="769.20" stroke="#111" stroke-width="1.4"/>
<text x="163.00" y="780.80" font-size="8.1" text-anchor="middle" font-weight="bold" textLength="8.00" lengthAdjust="spacingAndGlyphs" stroke="#000" stroke-width="0.2">40</text>
<line x1="171.70" y1="765.20" x2="171.70" y2="767.10" stroke="#111" stroke-width="1.2"/>
<line x1="179.30" y1="765.20" x2="179.30" y2="767.10" stroke="#111" stroke-width="1.2"/>
<line x1="186.90" y1="765.20" x2="186.90" y2="767.10" stroke="#111" stroke-width="1.2"/>
<line x1="194.50" y1="765.20" x2="194.50" y2="769.20" stroke="#111" stroke-width="1.4"/>
<text x="193.40" y="780.80" font-size="8.1" text-anchor="middle" font-weight="bold" textLength="8.00" lengthAdjust="spacingAndGlyphs" stroke="#000" stroke-width="0.2">60</text>
<line x1="202.10" y1="765.20" x2="202.10" y2="767.10" stroke="#111" stroke-width="1.2"/>
<line x1="209.70" y1="765.20" x2="209.70" y2="767.10" stroke="#111" stroke-width="1.2"/>
<line x1="217.30" y1="765.20" x2="217.30" y2="767.10" stroke="#111" stroke-width="1.2"/>
<line x1="224.90" y1="765.20" x2="224.90" y2="769.20" stroke="#111" stroke-width="1.4"/>
<text x="223.80" y="780.80" font-size="8.1" text-anchor="middle" font-weight="bold" textLength="8.00" lengthAdjust="spacingAndGlyphs" stroke="#000" stroke-width="0.2">80</text>
<line x1="232.50" y1="765.20" x2="232.50" y2="767.10" stroke="#111" stroke-width="1.2"/>
<line x1="240.10" y1="765.20" x2="240.10" y2="767.10" stroke="#111" stroke-width="1.2"/>
<line x1="247.70" y1="765.20" x2="247.70" y2="767.10" stroke="#111" stroke-width="1.2"/>
<line x1="255.30" y1="765.20" x2="255.30" y2="769.20" stroke="#111" stroke-width="1.4"/>
<text x="254.20" y="780.80" font-size="8.1" text-anchor="middle" font-weight="bold" textLength="11.60" lengthAdjust="spacingAndGlyphs" stroke="#000" stroke-width="0.2">100</text>
<rect x="126.20" y="631.60" width="11.80" height="60.50" fill="none" stroke="#000" stroke-width="2.3"/>
<rect x="126.20" y="693.70" width="11.80" height="49.70" fill="none" stroke="#000" stroke-width="2.3"/>
<rect x="140.00" y="631.60" width="11.80" height="111.80" fill="none" stroke="#000" stroke-width="2.3"/>
<rect x="153.10" y="631.60" width="11.50" height="111.80" fill="none" stroke="#000" stroke-width="2.3"/>
<text x="145.10" y="617.40" font-size="8.4" text-anchor="middle" font-weight="bold" textLength="5.20" lengthAdjust="spacingAndGlyphs" stroke="#000" stroke-width="0.25">S</text>
<text x="146.20" y="628.00" font-size="8.4" text-anchor="middle" font-weight="bold" textLength="21.00" lengthAdjust="spacingAndGlyphs" stroke="#000" stroke-width="0.25">13.08</text>
<text x="113.60" y="652.60" font-size="8.4" text-anchor="middle" font-weight="bold" textLength="10.50" lengthAdjust="spacingAndGlyphs" stroke="#000" stroke-width="0.25">G1</text>
<text x="114.70" y="662.80" font-size="8.4" text-anchor="middle" font-weight="bold" textLength="16.70" lengthAdjust="spacingAndGlyphs" stroke="#000" stroke-width="0.25">3.96</text>
<text x="111.20" y="719.80" font-size="8.4" text-anchor="middle" font-weight="bold" textLength="10.70" lengthAdjust="spacingAndGlyphs" stroke="#000" stroke-width="0.25">G0</text>
<text x="114.10" y="730.40" font-size="8.4" text-anchor="middle" font-weight="bold" textLength="17.30" lengthAdjust="spacingAndGlyphs" stroke="#000" stroke-width="0.25">74.2</text>
<text x="179.90" y="691.10" font-size="8.4" text-anchor="middle" font-weight="bold" textLength="6.90" lengthAdjust="spacingAndGlyphs" stroke="#000" stroke-width="0.25">M</text>
<text x="179.90" y="701.30" font-size="8.4" text-anchor="middle" font-weight="bold" textLength="12.70" lengthAdjust="spacingAndGlyphs" stroke="#000" stroke-width="0.25">8.5</text>
<text x="120.70" y="750.40" font-size="8.4" text-anchor="middle" font-weight="bold" textLength="17.80" lengthAdjust="spacingAndGlyphs" stroke="#000" stroke-width="0.25">PBS</text>
<path d="M316 636h1v1h-1zM316 638h1v1h-1zM316 640h1v1h-1zM316 641h1v1h-1zM316 642h1v1h-1zM316 643h1v1h-1zM316 650h1v1h-1zM316 651h1v1h-1zM316 653h1v1h-1zM316 660h1v1h-1zM316 663h1v1h-1zM316 664h1v1h-1zM316 668h1v1h-1zM316 670h1v1h-1zM316 671h1v1h-1zM316 674h1v1h-1zM316 677h1v1h-1zM316 679h1v1h-1zM316 680h1v1h-1zM316 683h1v1h-1zM316 684h1v1h-1zM316 686h1v1h-1zM316 687h1v1h-1zM316 688h1v1h-1zM316 689h1v1h-1zM317 638h1v1h-1zM317 639h1v1h-1zM317 641h1v1h-1zM317 642h1v1h-1zM317 643h1v1h-1zM317 645h1v1h-1zM317 646h1v1h-1zM317 647h1v1h-1zM317 650h1v1h-1zM317 654h1v1h-1zM317 655h1v1h-1zM317 658h1v1h-1zM317 659h1v1h-1zM317 662h1v1h-1zM317 666h1v1h-1zM317 673h1v1h-1zM317 676h1v1h-1zM317 677h1v1h-1zM317 679h1v1h-1zM317 680h1v1h-1zM317 682h1v1h-1zM317 683h1v1h-1zM317 686h1v1h-1zM317 688h1v1h-1zM318 640h1v1h-1zM318 643h1v1h-1zM318 644h1v1h-1zM318 658h1v1h-1zM318 663h1v1h-1zM318 666h1v1h-1zM318 667h1v1h-1zM318 668h1v1h-1zM318 670h1v1h-1zM318 672h1v1h-1zM318 674h1v1h-1zM318 675h1v1h-1zM318 676h1v1h-1zM318 678h1v1h-1zM318 683h1v1h-1zM318 684h1v1h-1zM318 686h1v1h-1zM318 689h1v1h-1zM319 636h1v1h-1zM319 637h1v1h-1zM319 639h1v1h-1zM319 643h1v1h-1zM319 644h1v1h-1zM319 645h1v1h-1zM319 647h1v1h-1zM319 650h1v1h-1zM319 651h1v1h-1zM319 654h1v1h-1zM319 659h1v1h-1zM319 663h1v1h-1zM319 664h1v1h-1zM319 667h1v1h-1zM319 672h1v1h-1zM319 679h1v1h-1zM319 683h1v1h-1zM319 685h1v1h-1zM319 686h1v1h-1zM319 687h1v1h-1zM319 688h1v1h-1zM320 636h1v1h-1zM320 641h1v1h-1zM320 643h1v1h-1zM320 646h1v1h-1zM320 647h1v1h-1zM320 649h1v1h-1zM320 650h1v1h-1zM320 652h1v1h-1zM320 654h1v1h-1zM320 655h1v1h-1zM320 657h1v1h-1zM320 658h1v1h-1zM320 662h1v1h-1zM320 664h1v1h-1zM320 665h1v1h-1zM320 672h1v1h-1zM320 674h1v1h-1zM320 676h1v1h-1zM320 680h1v1h-1zM320 682h1v1h-1zM320 684h1v1h-1zM320 685h1v1h-1zM320 687h1v1h-1zM320 689h1v1h-1zM321 636h1v1h-1zM321 638h1v1h-1zM321 640h1v1h-1zM321 644h1v1h-1zM321 646h1v1h-1zM321 648h1v1h-1zM321 651h1v1h-1zM321 654h1v1h-1zM321 658h1v1h-1zM321 659h1v1h-1zM321 660h1v1h-1zM321 661h1v1h-1zM321 664h1v1h-1zM321 667h1v1h-1zM321 669h1v1h-1zM321 674h1v1h-1zM321 679h1v1h-1zM321 681h1v1h-1zM321 682h1v1h-1zM321 683h1v1h-1zM321 685h1v1h-1zM321 686h1v1h-1zM321 688h1v1h-1zM322 636h1v1h-1zM322 637h1v1h-1zM322 639h1v1h-1zM322 647h1v1h-1zM322 648h1v1h-1zM322 650h1v1h-1zM322 651h1v1h-1zM322 656h1v1h-1zM322 661h1v1h-1zM322 662h1v1h-1zM322 664h1v1h-1zM322 670h1v1h-1zM322 674h1v1h-1zM322 677h1v1h-1zM322 678h1v1h-1zM322 680h1v1h-1zM322 683h1v1h-1zM322 684h1v1h-1zM322 685h1v1h-1zM322 686h1v1h-1zM322 689h1v1h-1zM327 636h1v1h-1zM327 646h1v1h-1zM327 647h1v1h-1zM327 649h1v1h-1zM327 650h1v1h-1zM327 651h1v1h-1zM327 662h1v1h-1zM327 663h1v1h-1zM327 665h1v1h-1zM327 666h1v1h-1zM327 673h1v1h-1zM327 675h1v1h-1zM327 678h1v1h-1zM327 680h1v1h-1zM327 682h1v1h-1zM327 683h1v1h-1zM327 688h1v1h-1zM327 689h1v1h-1zM327 691h1v1h-1zM327 694h1v1h-1zM327 696h1v1h-1zM327 697h1v1h-1zM327 699h1v1h-1zM327 700h1v1h-1zM327 701h1v1h-1zM327 706h1v1h-1zM327 708h1v1h-1zM327 713h1v1h-1zM327 714h1v1h-1zM327 718h1v1h-1zM327 722h1v1h-1zM327 729h1v1h-1zM327 730h1v1h-1zM328 633h1v1h-1zM328 635h1v1h-1zM328 639h1v1h-1zM328 641h1v1h-1zM328 642h1v1h-1zM328 644h1v1h-1zM328 646h1v1h-1zM328 650h1v1h-1zM328 654h1v1h-1zM328 657h1v1h-1zM328 659h1v1h-1zM328 662h1v1h-1zM328 667h1v1h-1zM328 668h1v1h-1zM328 669h1v1h-1zM328 674h1v1h-1zM328 676h1v1h-1zM328 680h1v1h-1zM328 683h1v1h-1zM328 685h1v1h-1zM328 687h1v1h-1zM328 689h1v1h-1zM328 695h1v1h-1zM328 699h1v1h-1zM328 700h1v1h-1zM328 704h1v1h-1zM328 705h1v1h-1zM328 706h1v1h-1zM328 709h1v1h-1zM328 710h1v1h-1zM328 711h1v1h-1zM328 713h1v1h-1zM328 714h1v1h-1zM328 717h1v1h-1zM328 723h1v1h-1zM328 725h1v1h-1zM328 728h1v1h-1zM329 635h1v1h-1zM329 637h1v1h-1zM329 638h1v1h-1zM329 639h1v1h-1zM329 642h1v1h-1zM329 646h1v1h-1zM329 650h1v1h-1zM329 652h1v1h-1zM329 653h1v1h-1zM329 655h1v1h-1zM329 656h1v1h-1zM329 657h1v1h-1zM329 658h1v1h-1zM329 662h1v1h-1zM329 665h1v1h-1zM329 667h1v1h-1zM329 669h1v1h-1zM329 674h1v1h-1zM329 675h1v1h-1zM329 676h1v1h-1zM329 682h1v1h-1zM329 686h1v1h-1zM329 688h1v1h-1zM329 689h1v1h-1zM329 692h1v1h-1zM329 693h1v1h-1zM329 694h1v1h-1zM329 697h1v1h-1zM329 700h1v1h-1zM329 702h1v1h-1zM329 705h1v1h-1zM329 710h1v1h-1zM329 711h1v1h-1zM329 719h1v1h-1zM329 720h1v1h-1zM329 721h1v1h-1zM329 722h1v1h-1zM329 727h1v1h-1zM329 730h1v1h-1zM330 634h1v1h-1zM330 635h1v1h-1zM330 636h1v1h-1zM330 637h1v1h-1zM330 639h1v1h-1zM330 642h1v1h-1zM330 646h1v1h-1zM330 647h1v1h-1zM330 649h1v1h-1zM330 651h1v1h-1zM330 652h1v1h-1zM330 656h1v1h-1zM330 657h1v1h-1zM330 660h1v1h-1zM330 663h1v1h-1zM330 664h1v1h-1zM330 666h1v1h-1zM330 667h1v1h-1zM330 669h1v1h-1zM330 670h1v1h-1zM330 675h1v1h-1zM330 677h1v1h-1zM330 678h1v1h-1zM330 681h1v1h-1zM330 683h1v1h-1zM330 687h1v1h-1zM330 689h1v1h-1zM330 695h1v1h-1zM330 698h1v1h-1zM330 706h1v1h-1zM330 707h1v1h-1zM330 708h1v1h-1zM330 709h1v1h-1zM330 714h1v1h-1zM330 715h1v1h-1zM330 719h1v1h-1zM330 721h1v1h-1zM330 723h1v1h-1zM330 725h1v1h-1zM330 728h1v1h-1zM330 729h1v1h-1zM330 730h1v1h-1zM331 634h1v1h-1zM331 636h1v1h-1zM331 640h1v1h-1zM331 641h1v1h-1zM331 643h1v1h-1zM331 647h1v1h-1zM331 648h1v1h-1zM331 651h1v1h-1zM331 660h1v1h-1zM331 668h1v1h-1zM331 676h1v1h-1zM331 678h1v1h-1zM331 680h1v1h-1zM331 681h1v1h-1zM331 684h1v1h-1zM331 687h1v1h-1zM331 689h1v1h-1zM331 690h1v1h-1zM331 695h1v1h-1zM331 696h1v1h-1zM331 697h1v1h-1zM331 703h1v1h-1zM331 711h1v1h-1zM331 717h1v1h-1zM331 718h1v1h-1zM331 719h1v1h-1zM331 720h1v1h-1zM331 723h1v1h-1zM331 724h1v1h-1zM331 728h1v1h-1zM331 729h1v1h-1zM332 637h1v1h-1zM332 640h1v1h-1zM332 642h1v1h-1zM332 644h1v1h-1zM332 648h1v1h-1zM332 650h1v1h-1zM332 655h1v1h-1zM332 656h1v1h-1zM332 657h1v1h-1zM332 658h1v1h-1zM332 662h1v1h-1zM332 664h1v1h-1zM332 667h1v1h-1zM332 668h1v1h-1zM332 669h1v1h-1zM332 671h1v1h-1zM332 672h1v1h-1zM332 673h1v1h-1zM332 674h1v1h-1zM332 677h1v1h-1zM332 678h1v1h-1zM332 679h1v1h-1zM332 681h1v1h-1zM332 684h1v1h-1zM332 685h1v1h-1zM332 686h1v1h-1zM332 690h1v1h-1zM332 693h1v1h-1zM332 694h1v1h-1zM332 697h1v1h-1zM332 703h1v1h-1zM332 708h1v1h-1zM332 710h1v1h-1zM332 711h1v1h-1zM332 713h1v1h-1zM332 718h1v1h-1zM332 719h1v1h-1zM332 725h1v1h-1zM332 726h1v1h-1zM332 727h1v1h-1zM332 729h1v1h-1zM332 730h1v1h-1zM333 636h1v1h-1zM333 637h1v1h-1zM333 640h1v1h-1zM333 641h1v1h-1zM333 642h1v1h-1zM333 644h1v1h-1zM333 648h1v1h-1zM333 649h1v1h-1zM333 652h1v1h-1zM333 657h1v1h-1zM333 659h1v1h-1zM333 662h1v1h-1zM333 664h1v1h-1zM333 665h1v1h-1zM333 666h1v1h-1zM333 667h1v1h-1zM333 668h1v1h-1zM333 671h1v1h-1zM333 672h1v1h-1zM333 676h1v1h-1zM333 677h1v1h-1zM333 686h1v1h-1zM333 687h1v1h-1zM333 692h1v1h-1zM333 695h1v1h-1zM333 697h1v1h-1zM333 699h1v1h-1zM333 703h1v1h-1zM333 705h1v1h-1zM333 712h1v1h-1zM333 713h1v1h-1zM333 717h1v1h-1zM333 723h1v1h-1zM333 729h1v1h-1zM334 633h1v1h-1zM334 637h1v1h-1zM334 638h1v1h-1zM334 641h1v1h-1zM334 644h1v1h-1zM334 646h1v1h-1zM334 647h1v1h-1zM334 654h1v1h-1zM334 656h1v1h-1zM334 658h1v1h-1zM334 659h1v1h-1zM334 661h1v1h-1zM334 663h1v1h-1zM334 668h1v1h-1zM334 670h1v1h-1zM334 671h1v1h-1zM334 674h1v1h-1zM334 675h1v1h-1zM334 680h1v1h-1zM334 681h1v1h-1zM334 682h1v1h-1zM334 687h1v1h-1zM334 688h1v1h-1zM334 693h1v1h-1zM334 695h1v1h-1zM334 707h1v1h-1zM334 708h1v1h-1zM334 713h1v1h-1zM334 718h1v1h-1zM334 719h1v1h-1zM334 723h1v1h-1zM334 725h1v1h-1zM334 726h1v1h-1zM334 727h1v1h-1zM334 728h1v1h-1zM334 729h1v1h-1zM335 636h1v1h-1zM335 637h1v1h-1zM335 638h1v1h-1zM335 640h1v1h-1zM335 641h1v1h-1zM335 644h1v1h-1zM335 645h1v1h-1zM335 647h1v1h-1zM335 650h1v1h-1zM335 652h1v1h-1zM335 655h1v1h-1zM335 656h1v1h-1zM335 658h1v1h-1zM335 659h1v1h-1zM335 660h1v1h-1zM335 662h1v1h-1zM335 664h1v1h-1zM335 667h1v1h-1zM335 671h1v1h-1zM335 673h1v1h-1zM335 674h1v1h-1zM335 678h1v1h-1zM335 680h1v1h-1zM335 681h1v1h-1zM335 682h1v1h-1zM335 684h1v1h-1zM335 685h1v1h-1zM335 686h1v1h-1zM335 687h1v1h-1zM335 688h1v1h-1zM335 689h1v1h-1zM335 691h1v1h-1zM335 692h1v1h-1zM335 693h1v1h-1zM335 695h1v1h-1zM335 702h1v1h-1zM335 703h1v1h-1zM335 704h1v1h-1zM335 705h1v1h-1zM335 708h1v1h-1zM335 709h1v1h-1zM335 711h1v1h-1zM335 716h1v1h-1zM335 718h1v1h-1zM335 720h1v1h-1zM335 723h1v1h-1zM335 728h1v1h-1zM335 730h1v1h-1zM336 633h1v1h-1zM336 634h1v1h-1zM336 636h1v1h-1zM336 637h1v1h-1zM336 638h1v1h-1zM336 642h1v1h-1zM336 649h1v1h-1zM336 651h1v1h-1zM336 653h1v1h-1zM336 655h1v1h-1zM336 664h1v1h-1zM336 666h1v1h-1zM336 667h1v1h-1zM336 668h1v1h-1zM336 680h1v1h-1zM336 681h1v1h-1zM336 684h1v1h-1zM336 687h1v1h-1zM336 688h1v1h-1zM336 690h1v1h-1zM336 693h1v1h-1zM336 694h1v1h-1zM336 699h1v1h-1zM336 702h1v1h-1zM336 703h1v1h-1zM336 707h1v1h-1zM336 713h1v1h-1zM336 718h1v1h-1zM336 722h1v1h-1zM336 725h1v1h-1zM336 730h1v1h-1z" fill="#999"/>
<path d="M316 696h1v1h-1zM316 697h1v1h-1zM316 701h1v1h-1zM316 702h1v1h-1zM316 703h1v1h-1zM316 705h1v1h-1zM316 706h1v1h-1zM316 707h1v1h-1zM316 708h1v1h-1zM316 709h1v1h-1zM316 710h1v1h-1zM316 711h1v1h-1zM316 712h1v1h-1zM316 716h1v1h-1zM316 718h1v1h-1zM316 719h1v1h-1zM316 720h1v1h-1zM316 724h1v1h-1zM316 725h1v1h-1zM316 726h1v1h-1zM316 729h1v1h-1zM316 730h1v1h-1zM316 733h1v1h-1zM316 734h1v1h-1zM317 697h1v1h-1zM317 698h1v1h-1zM317 699h1v1h-1zM317 701h1v1h-1zM317 703h1v1h-1zM317 704h1v1h-1zM317 706h1v1h-1zM317 707h1v1h-1zM317 708h1v1h-1zM317 709h1v1h-1zM317 710h1v1h-1zM317 712h1v1h-1zM317 715h1v1h-1zM317 717h1v1h-1zM317 718h1v1h-1zM317 720h1v1h-1zM317 723h1v1h-1zM317 725h1v1h-1zM317 728h1v1h-1zM317 731h1v1h-1zM317 734h1v1h-1zM317 735h1v1h-1zM317 737h1v1h-1zM318 696h1v1h-1zM318 697h1v1h-1zM318 698h1v1h-1zM318 699h1v1h-1zM318 701h1v1h-1zM318 703h1v1h-1zM318 704h1v1h-1zM318 705h1v1h-1zM318 706h1v1h-1zM318 709h1v1h-1zM318 711h1v1h-1zM318 713h1v1h-1zM318 715h1v1h-1zM318 717h1v1h-1zM318 719h1v1h-1zM318 720h1v1h-1zM318 723h1v1h-1zM318 724h1v1h-1zM318 725h1v1h-1zM318 726h1v1h-1zM318 728h1v1h-1zM318 729h1v1h-1zM318 730h1v1h-1zM318 732h1v1h-1zM318 733h1v1h-1zM318 734h1v1h-1zM318 735h1v1h-1zM318 736h1v1h-1zM318 737h1v1h-1zM319 696h1v1h-1zM319 700h1v1h-1zM319 701h1v1h-1zM319 702h1v1h-1zM319 703h1v1h-1zM319 705h1v1h-1zM319 706h1v1h-1zM319 709h1v1h-1zM319 712h1v1h-1zM319 714h1v1h-1zM319 715h1v1h-1zM319 716h1v1h-1zM319 717h1v1h-1zM319 718h1v1h-1zM319 719h1v1h-1zM319 722h1v1h-1zM319 723h1v1h-1zM319 724h1v1h-1zM319 726h1v1h-1zM319 727h1v1h-1zM319 729h1v1h-1zM319 730h1v1h-1zM319 731h1v1h-1zM319 735h1v1h-1zM319 736h1v1h-1zM319 737h1v1h-1zM320 697h1v1h-1zM320 699h1v1h-1zM320 703h1v1h-1zM320 704h1v1h-1zM320 706h1v1h-1zM320 710h1v1h-1zM320 711h1v1h-1zM320 712h1v1h-1zM320 713h1v1h-1zM320 715h1v1h-1zM320 718h1v1h-1zM320 721h1v1h-1zM320 724h1v1h-1zM320 729h1v1h-1zM320 731h1v1h-1zM320 732h1v1h-1zM320 735h1v1h-1zM320 736h1v1h-1zM321 697h1v1h-1zM321 699h1v1h-1zM321 700h1v1h-1zM321 701h1v1h-1zM321 702h1v1h-1zM321 705h1v1h-1zM321 706h1v1h-1zM321 708h1v1h-1zM321 709h1v1h-1zM321 710h1v1h-1zM321 715h1v1h-1zM321 717h1v1h-1zM321 719h1v1h-1zM321 720h1v1h-1zM321 721h1v1h-1zM321 725h1v1h-1zM321 727h1v1h-1zM321 728h1v1h-1zM321 730h1v1h-1zM321 731h1v1h-1zM321 732h1v1h-1zM321 737h1v1h-1zM322 696h1v1h-1zM322 701h1v1h-1zM322 704h1v1h-1zM322 706h1v1h-1zM322 708h1v1h-1zM322 709h1v1h-1zM322 710h1v1h-1zM322 713h1v1h-1zM322 714h1v1h-1zM322 716h1v1h-1zM322 717h1v1h-1zM322 719h1v1h-1zM322 720h1v1h-1zM322 722h1v1h-1zM322 723h1v1h-1zM322 724h1v1h-1zM322 725h1v1h-1zM322 727h1v1h-1zM322 728h1v1h-1zM322 730h1v1h-1zM322 731h1v1h-1zM322 732h1v1h-1z" fill="#8c8c8c"/>
<path d="M340 638h1v1h-1zM340 651h1v1h-1zM340 655h1v1h-1zM340 669h1v1h-1zM340 671h1v1h-1zM340 675h1v1h-1zM340 680h1v1h-1zM340 691h1v1h-1zM340 699h1v1h-1zM340 706h1v1h-1zM340 708h1v1h-1zM340 709h1v1h-1zM340 710h1v1h-1zM340 713h1v1h-1zM340 720h1v1h-1zM340 721h1v1h-1zM341 636h1v1h-1zM341 641h1v1h-1zM341 657h1v1h-1zM341 658h1v1h-1zM341 661h1v1h-1zM341 663h1v1h-1zM341 669h1v1h-1zM341 674h1v1h-1zM341 678h1v1h-1zM341 680h1v1h-1zM341 681h1v1h-1zM341 685h1v1h-1zM341 687h1v1h-1zM341 690h1v1h-1zM341 692h1v1h-1zM341 701h1v1h-1zM341 703h1v1h-1zM341 705h1v1h-1zM341 719h1v1h-1zM341 722h1v1h-1zM341 723h1v1h-1zM342 633h1v1h-1zM342 637h1v1h-1zM342 641h1v1h-1zM342 646h1v1h-1zM342 648h1v1h-1zM342 651h1v1h-1zM342 654h1v1h-1zM342 657h1v1h-1zM342 660h1v1h-1zM342 662h1v1h-1zM342 665h1v1h-1zM342 669h1v1h-1zM342 670h1v1h-1zM342 673h1v1h-1zM342 678h1v1h-1zM342 682h1v1h-1zM342 693h1v1h-1zM342 695h1v1h-1zM342 700h1v1h-1zM342 702h1v1h-1zM342 703h1v1h-1zM342 705h1v1h-1zM342 707h1v1h-1zM342 711h1v1h-1zM342 714h1v1h-1zM342 715h1v1h-1zM342 716h1v1h-1zM342 719h1v1h-1zM342 720h1v1h-1zM342 721h1v1h-1zM342 723h1v1h-1zM343 634h1v1h-1zM343 639h1v1h-1zM343 643h1v1h-1zM343 645h1v1h-1zM343 647h1v1h-1zM343 649h1v1h-1zM343 651h1v1h-1zM343 652h1v1h-1zM343 653h1v1h-1zM343 654h1v1h-1zM343 655h1v1h-1zM343 658h1v1h-1zM343 660h1v1h-1zM343 663h1v1h-1zM343 670h1v1h-1zM343 676h1v1h-1zM343 682h1v1h-1zM343 683h1v1h-1zM343 685h1v1h-1zM343 686h1v1h-1zM343 688h1v1h-1zM343 692h1v1h-1zM343 695h1v1h-1zM343 696h1v1h-1zM343 702h1v1h-1zM343 705h1v1h-1zM343 707h1v1h-1zM343 709h1v1h-1zM343 710h1v1h-1zM343 712h1v1h-1zM343 715h1v1h-1zM343 719h1v1h-1zM343 723h1v1h-1zM344 634h1v1h-1zM344 638h1v1h-1zM344 642h1v1h-1zM344 645h1v1h-1zM344 647h1v1h-1zM344 650h1v1h-1zM344 652h1v1h-1zM344 655h1v1h-1zM344 659h1v1h-1zM344 666h1v1h-1zM344 668h1v1h-1zM344 676h1v1h-1zM344 678h1v1h-1zM344 679h1v1h-1zM344 683h1v1h-1zM344 684h1v1h-1zM344 686h1v1h-1zM344 688h1v1h-1zM344 689h1v1h-1zM344 700h1v1h-1zM344 706h1v1h-1zM344 707h1v1h-1zM344 708h1v1h-1zM344 709h1v1h-1zM344 711h1v1h-1zM344 712h1v1h-1zM344 714h1v1h-1zM344 715h1v1h-1zM344 716h1v1h-1zM344 717h1v1h-1zM344 719h1v1h-1zM344 721h1v1h-1zM345 634h1v1h-1zM345 635h1v1h-1zM345 639h1v1h-1zM345 641h1v1h-1zM345 642h1v1h-1zM345 646h1v1h-1zM345 651h1v1h-1zM345 653h1v1h-1zM345 658h1v1h-1zM345 659h1v1h-1zM345 660h1v1h-1zM345 662h1v1h-1zM345 665h1v1h-1zM345 668h1v1h-1zM345 669h1v1h-1zM345 671h1v1h-1zM345 674h1v1h-1zM345 676h1v1h-1zM345 680h1v1h-1zM345 686h1v1h-1zM345 692h1v1h-1zM345 694h1v1h-1zM345 704h1v1h-1zM345 708h1v1h-1zM345 709h1v1h-1zM345 710h1v1h-1zM345 713h1v1h-1zM345 715h1v1h-1zM345 721h1v1h-1zM345 722h1v1h-1zM346 641h1v1h-1zM346 642h1v1h-1zM346 647h1v1h-1zM346 648h1v1h-1zM346 651h1v1h-1zM346 666h1v1h-1zM346 670h1v1h-1zM346 673h1v1h-1zM346 676h1v1h-1zM346 679h1v1h-1zM346 680h1v1h-1zM346 682h1v1h-1zM346 683h1v1h-1zM346 686h1v1h-1zM346 690h1v1h-1zM346 698h1v1h-1zM346 708h1v1h-1zM346 710h1v1h-1zM346 716h1v1h-1zM346 717h1v1h-1zM346 719h1v1h-1zM346 724h1v1h-1zM347 634h1v1h-1zM347 636h1v1h-1zM347 637h1v1h-1zM347 654h1v1h-1zM347 658h1v1h-1zM347 661h1v1h-1zM347 667h1v1h-1zM347 671h1v1h-1zM347 673h1v1h-1zM347 684h1v1h-1zM347 689h1v1h-1zM347 690h1v1h-1zM347 697h1v1h-1zM347 701h1v1h-1zM347 705h1v1h-1zM347 708h1v1h-1zM347 712h1v1h-1zM347 722h1v1h-1zM348 636h1v1h-1zM348 645h1v1h-1zM348 650h1v1h-1zM348 657h1v1h-1zM348 661h1v1h-1zM348 664h1v1h-1zM348 673h1v1h-1zM348 676h1v1h-1zM348 707h1v1h-1zM348 709h1v1h-1zM348 717h1v1h-1zM348 718h1v1h-1zM348 724h1v1h-1zM349 633h1v1h-1zM349 636h1v1h-1zM349 643h1v1h-1zM349 646h1v1h-1zM349 657h1v1h-1zM349 659h1v1h-1zM349 663h1v1h-1zM349 694h1v1h-1zM349 696h1v1h-1zM349 702h1v1h-1zM349 710h1v1h-1zM349 721h1v1h-1z" fill="#a0a0a0"/>
<rect x="289.90" y="609.60" width="157.10" height="155.80" fill="none" stroke="#111" stroke-width="1.3"/>
<line x1="285.70" y1="765.00" x2="289.90" y2="765.00" stroke="#111" stroke-width="1.4"/>
<text x="283.70" y="767.90" font-size="8.1" text-anchor="end" font-weight="bold" stroke="#000" stroke-width="0.2">0</text>
<line x1="288.00" y1="757.37" x2="289.90" y2="757.37" stroke="#111" stroke-width="1.2"/>
<line x1="288.00" y1="749.74" x2="289.90" y2="749.74" stroke="#111" stroke-width="1.2"/>
<line x1="288.00" y1="742.11" x2="289.90" y2="742.11" stroke="#111" stroke-width="1.2"/>
<line x1="285.70" y1="734.48" x2="289.90" y2="734.48" stroke="#111" stroke-width="1.4"/>
<text x="278.90" y="737.38" font-size="8.1" text-anchor="end" font-weight="bold" textLength="8.00" lengthAdjust="spacingAndGlyphs" stroke="#000" stroke-width="0.2">20</text>
<line x1="288.00" y1="726.85" x2="289.90" y2="726.85" stroke="#111" stroke-width="1.2"/>
<line x1="288.00" y1="719.22" x2="289.90" y2="719.22" stroke="#111" stroke-width="1.2"/>
<line x1="288.00" y1="711.59" x2="289.90" y2="711.59" stroke="#111" stroke-width="1.2"/>
<line x1="285.70" y1="703.96" x2="289.90" y2="703.96" stroke="#111" stroke-width="1.4"/>
<text x="278.90" y="706.86" font-size="8.1" text-anchor="end" font-weight="bold" textLength="8.00" lengthAdjust="spacingAndGlyphs" stroke="#000" stroke-width="0.2">40</text>
<line x1="288.00" y1="696.33" x2="289.90" y2="696.33" stroke="#111" stroke-width="1.2"/>
<line x1="288.00" y1="688.70" x2="289.90" y2="688.70" stroke="#111" stroke-width="1.2"/>
<line x1="288.00" y1="681.07" x2="289.90" y2="681.07" stroke="#111" stroke-width="1.2"/>
<line x1="285.70" y1="673.44" x2="289.90" y2="673.44" stroke="#111" stroke-width="1.4"/>
<text x="278.90" y="676.34" font-size="8.1" text-anchor="end" font-weight="bold" textLength="8.00" lengthAdjust="spacingAndGlyphs" stroke="#000" stroke-width="0.2">60</text>
<line x1="288.00" y1="665.81" x2="289.90" y2="665.81" stroke="#111" stroke-width="1.2"/>
<line x1="288.00" y1="658.18" x2="289.90" y2="658.18" stroke="#111" stroke-width="1.2"/>
<line x1="288.00" y1="650.55" x2="289.90" y2="650.55" stroke="#111" stroke-width="1.2"/>
<line x1="285.70" y1="642.92" x2="289.90" y2="642.92" stroke="#111" stroke-width="1.4"/>
<text x="278.90" y="645.82" font-size="8.1" text-anchor="end" font-weight="bold" textLength="8.00" lengthAdjust="spacingAndGlyphs" stroke="#000" stroke-width="0.2">80</text>
<line x1="288.00" y1="635.29" x2="289.90" y2="635.29" stroke="#111" stroke-width="1.2"/>
<line x1="288.00" y1="627.66" x2="289.90" y2="627.66" stroke="#111" stroke-width="1.2"/>
<line x1="288.00" y1="620.03" x2="289.90" y2="620.03" stroke="#111" stroke-width="1.2"/>
<line x1="285.70" y1="612.40" x2="289.90" y2="612.40" stroke="#111" stroke-width="1.4"/>
<text x="278.90" y="615.30" font-size="8.1" text-anchor="end" font-weight="bold" textLength="11.60" lengthAdjust="spacingAndGlyphs" stroke="#000" stroke-width="0.2">100</text>
<line x1="289.60" y1="765.40" x2="289.60" y2="769.40" stroke="#111" stroke-width="1.4"/>
<text x="288.50" y="781.00" font-size="8.1" text-anchor="middle" font-weight="bold" textLength="8.00" lengthAdjust="spacingAndGlyphs" stroke="#000" stroke-width="0.2">0</text>
<line x1="297.20" y1="765.40" x2="297.20" y2="767.30" stroke="#111" stroke-width="1.2"/>
<line x1="304.80" y1="765.40" x2="304.80" y2="767.30" stroke="#111" stroke-width="1.2"/>
<line x1="312.40" y1="765.40" x2="312.40" y2="767.30" stroke="#111" stroke-width="1.2"/>
<line x1="320.00" y1="765.40" x2="320.00" y2="769.40" stroke="#111" stroke-width="1.4"/>
<text x="318.90" y="781.00" font-size="8.1" text-anchor="middle" font-weight="bold" textLength="8.00" lengthAdjust="spacingAndGlyphs" stroke="#000" stroke-width="0.2">20</text>
<line x1="327.60" y1="765.40" x2="327.60" y2="767.30" stroke="#111" stroke-width="1.2"/>
<line x1="335.20" y1="765.40" x2="335.20" y2="767.30" stroke="#111" stroke-width="1.2"/>
<line x1="342.80" y1="765.40" x2="342.80" y2="767.30" stroke="#111" stroke-width="1.2"/>
<line x1="350.40" y1="765.40" x2="350.40" y2="769.40" stroke="#111" stroke-width="1.4"/>
<text x="349.30" y="781.00" font-size="8.1" text-anchor="middle" font-weight="bold" textLength="8.00" lengthAdjust="spacingAndGlyphs" stroke="#000" stroke-width="0.2">40</text>
<line x1="358.00" y1="765.40" x2="358.00" y2="767.30" stroke="#111" stroke-width="1.2"/>
<line x1="365.60" y1="765.40" x2="365.60" y2="767.30" stroke="#111" stroke-width="1.2"/>
<line x1="373.20" y1="765.40" x2="373.20" y2="767.30" stroke="#111" stroke-width="1.2"/>
<line x1="380.80" y1="765.40" x2="380.80" y2="769.40" stroke="#111" stroke-width="1.4"/>
<text x="379.70" y="781.00" font-size="8.1" text-anchor="middle" font-weight="bold" textLength="8.00" lengthAdjust="spacingAndGlyphs" stroke="#000" stroke-width="0.2">60</text>
<line x1="388.40" y1="765.40" x2="388.40" y2="767.30" stroke="#111" stroke-width="1.2"/>
<line x1="396.00" y1="765.40" x2="396.00" y2="767.30" stroke="#111" stroke-width="1.2"/>
<line x1="403.60" y1="765.40" x2="403.60" y2="767.30" stroke="#111" stroke-width="1.2"/>
<line x1="411.20" y1="765.40" x2="411.20" y2="769.40" stroke="#111" stroke-width="1.4"/>
<text x="410.10" y="781.00" font-size="8.1" text-anchor="middle" font-weight="bold" textLength="8.00" lengthAdjust="spacingAndGlyphs" stroke="#000" stroke-width="0.2">80</text>
<line x1="418.80" y1="765.40" x2="418.80" y2="767.30" stroke="#111" stroke-width="1.2"/>
<line x1="426.40" y1="765.40" x2="426.40" y2="767.30" stroke="#111" stroke-width="1.2"/>
<line x1="434.00" y1="765.40" x2="434.00" y2="767.30" stroke="#111" stroke-width="1.2"/>
<line x1="441.60" y1="765.40" x2="441.60" y2="769.40" stroke="#111" stroke-width="1.4"/>
<text x="440.50" y="781.00" font-size="8.1" text-anchor="middle" font-weight="bold" textLength="11.60" lengthAdjust="spacingAndGlyphs" stroke="#000" stroke-width="0.2">100</text>
<rect x="312.05" y="631.60" width="12.00" height="61.30" fill="none" stroke="#000" stroke-width="2.3"/>
<rect x="312.05" y="694.55" width="12.00" height="49.75" fill="none" stroke="#000" stroke-width="2.3"/>
<rect x="326.05" y="631.60" width="11.50" height="112.70" fill="none" stroke="#000" stroke-width="2.3"/>
<rect x="339.65" y="631.60" width="10.80" height="112.70" fill="none" stroke="#000" stroke-width="2.3"/>
<text x="330.60" y="620.00" font-size="8.4" text-anchor="middle" font-weight="bold" textLength="5.80" lengthAdjust="spacingAndGlyphs" stroke="#000" stroke-width="0.25">S</text>
<text x="328.60" y="630.00" font-size="8.4" text-anchor="middle" font-weight="bold" textLength="16.70" lengthAdjust="spacingAndGlyphs" stroke="#000" stroke-width="0.25">19.5</text>
<text x="299.40" y="652.80" font-size="8.4" text-anchor="middle" font-weight="bold" textLength="10.40" lengthAdjust="spacingAndGlyphs" stroke="#000" stroke-width="0.25">G1</text>
<text x="300.60" y="663.00" font-size="8.4" text-anchor="middle" font-weight="bold" textLength="17.20" lengthAdjust="spacingAndGlyphs" stroke="#000" stroke-width="0.25">8.83</text>
<text x="300.10" y="719.80" font-size="8.4" text-anchor="middle" font-weight="bold" textLength="11.10" lengthAdjust="spacingAndGlyphs" stroke="#000" stroke-width="0.25">G0</text>
<text x="300.60" y="730.40" font-size="8.4" text-anchor="middle" font-weight="bold" textLength="16.70" lengthAdjust="spacingAndGlyphs" stroke="#000" stroke-width="0.25">60.3</text>
<text x="366.10" y="691.10" font-size="8.4" text-anchor="middle" font-weight="bold" textLength="6.90" lengthAdjust="spacingAndGlyphs" stroke="#000" stroke-width="0.25">M</text>
<text x="368.10" y="701.30" font-size="8.4" text-anchor="middle" font-weight="bold" textLength="16.80" lengthAdjust="spacingAndGlyphs" stroke="#000" stroke-width="0.25">9.52</text>
<path d="M80.4 791.3 L80.4 759" stroke="#000" stroke-width="2.1" fill="none"/>
<path d="M76.2 764.6 L80.4 758.2 L84.6 764.6" stroke="#000" stroke-width="2.3" fill="none" stroke-linejoin="miter"/>
<path d="M79.4 790.4 L115 790.4" stroke="#000" stroke-width="2.1" fill="none"/>
<path d="M109.4 786.2 L115.6 790.4 L109.4 794.6" stroke="#000" stroke-width="2.3" fill="none" stroke-linejoin="miter"/>
<text x="66.00" y="785.30" font-size="9.2" text-anchor="middle" font-weight="bold" textLength="22.00" lengthAdjust="spacingAndGlyphs" >FITC</text>
<text x="95.70" y="804.40" font-size="9.6" text-anchor="middle" font-weight="bold" textLength="10.60" lengthAdjust="spacingAndGlyphs" >PI</text>
</g></svg>
</body></html>
